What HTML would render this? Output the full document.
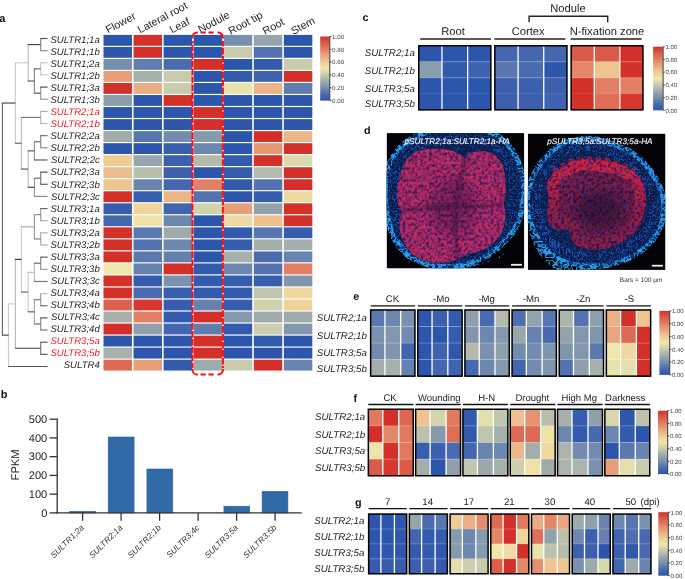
<!DOCTYPE html>
<html><head><meta charset="utf-8"><title>SULTR figure</title>
<style>html,body{margin:0;padding:0;background:#fff;width:685px;height:579px;overflow:hidden}
svg{display:block;font-family:"Liberation Sans", sans-serif;will-change:transform}
text{font-family:"Liberation Sans", sans-serif;text-rendering:geometricPrecision}</style></head>
<body>
<svg width="685" height="579" viewBox="0 0 685 579" font-family='&quot;Liberation Sans&quot;, sans-serif'>
<rect x="0" y="0" width="685" height="579" fill="#ffffff"/>
<text x="-0.8" y="21.8" font-size="11" fill="#111" text-anchor="start" font-weight="bold">a</text>
<rect x="103.5" y="34.9" width="28.45" height="10.85" fill="#2c56ac"/>
<rect x="133.56" y="34.9" width="28.45" height="10.85" fill="#d4302a"/>
<rect x="163.62" y="34.9" width="28.45" height="10.85" fill="#2c56ac"/>
<rect x="193.68" y="34.9" width="28.45" height="10.85" fill="#2c56ac"/>
<rect x="223.74" y="34.9" width="28.45" height="10.85" fill="#768fae"/>
<rect x="253.8" y="34.9" width="28.45" height="10.85" fill="#97a5ac"/>
<rect x="283.86" y="34.9" width="28.45" height="10.85" fill="#2c56ac"/>
<rect x="103.5" y="46.93" width="28.45" height="10.85" fill="#2c56ac"/>
<rect x="133.56" y="46.93" width="28.45" height="10.85" fill="#d4302a"/>
<rect x="163.62" y="46.93" width="28.45" height="10.85" fill="#2c56ac"/>
<rect x="193.68" y="46.93" width="28.45" height="10.85" fill="#2c56ac"/>
<rect x="223.74" y="46.93" width="28.45" height="10.85" fill="#c8cbad"/>
<rect x="253.8" y="46.93" width="28.45" height="10.85" fill="#5472b0"/>
<rect x="283.86" y="46.93" width="28.45" height="10.85" fill="#2c56ac"/>
<rect x="103.5" y="58.96" width="28.45" height="10.85" fill="#768fae"/>
<rect x="133.56" y="58.96" width="28.45" height="10.85" fill="#607daf"/>
<rect x="163.62" y="58.96" width="28.45" height="10.85" fill="#4b6bb0"/>
<rect x="193.68" y="58.96" width="28.45" height="10.85" fill="#d4302a"/>
<rect x="223.74" y="58.96" width="28.45" height="10.85" fill="#2c56ac"/>
<rect x="253.8" y="58.96" width="28.45" height="10.85" fill="#325aad"/>
<rect x="283.86" y="58.96" width="28.45" height="10.85" fill="#c8cbad"/>
<rect x="103.5" y="70.99" width="28.45" height="10.85" fill="#e89e79"/>
<rect x="133.56" y="70.99" width="28.45" height="10.85" fill="#a7b1ab"/>
<rect x="163.62" y="70.99" width="28.45" height="10.85" fill="#c8cbad"/>
<rect x="193.68" y="70.99" width="28.45" height="10.85" fill="#2c56ac"/>
<rect x="223.74" y="70.99" width="28.45" height="10.85" fill="#325aad"/>
<rect x="253.8" y="70.99" width="28.45" height="10.85" fill="#3f63ae"/>
<rect x="283.86" y="70.99" width="28.45" height="10.85" fill="#d4302a"/>
<rect x="103.5" y="83.02" width="28.45" height="10.85" fill="#d4302a"/>
<rect x="133.56" y="83.02" width="28.45" height="10.85" fill="#ebad83"/>
<rect x="163.62" y="83.02" width="28.45" height="10.85" fill="#c8cbad"/>
<rect x="193.68" y="83.02" width="28.45" height="10.85" fill="#2c56ac"/>
<rect x="223.74" y="83.02" width="28.45" height="10.85" fill="#e8e2ab"/>
<rect x="253.8" y="83.02" width="28.45" height="10.85" fill="#ecb588"/>
<rect x="283.86" y="83.02" width="28.45" height="10.85" fill="#607daf"/>
<rect x="103.5" y="95.05" width="28.45" height="10.85" fill="#8a9dac"/>
<rect x="133.56" y="95.05" width="28.45" height="10.85" fill="#2c56ac"/>
<rect x="163.62" y="95.05" width="28.45" height="10.85" fill="#d4302a"/>
<rect x="193.68" y="95.05" width="28.45" height="10.85" fill="#2c56ac"/>
<rect x="223.74" y="95.05" width="28.45" height="10.85" fill="#2c56ac"/>
<rect x="253.8" y="95.05" width="28.45" height="10.85" fill="#2c56ac"/>
<rect x="283.86" y="95.05" width="28.45" height="10.85" fill="#2c56ac"/>
<rect x="103.5" y="107.08" width="28.45" height="10.85" fill="#2c56ac"/>
<rect x="133.56" y="107.08" width="28.45" height="10.85" fill="#2c56ac"/>
<rect x="163.62" y="107.08" width="28.45" height="10.85" fill="#2c56ac"/>
<rect x="193.68" y="107.08" width="28.45" height="10.85" fill="#d4302a"/>
<rect x="223.74" y="107.08" width="28.45" height="10.85" fill="#2c56ac"/>
<rect x="253.8" y="107.08" width="28.45" height="10.85" fill="#2c56ac"/>
<rect x="283.86" y="107.08" width="28.45" height="10.85" fill="#2c56ac"/>
<rect x="103.5" y="119.11" width="28.45" height="10.85" fill="#2c56ac"/>
<rect x="133.56" y="119.11" width="28.45" height="10.85" fill="#2c56ac"/>
<rect x="163.62" y="119.11" width="28.45" height="10.85" fill="#2c56ac"/>
<rect x="193.68" y="119.11" width="28.45" height="10.85" fill="#d4302a"/>
<rect x="223.74" y="119.11" width="28.45" height="10.85" fill="#2c56ac"/>
<rect x="253.8" y="119.11" width="28.45" height="10.85" fill="#2c56ac"/>
<rect x="283.86" y="119.11" width="28.45" height="10.85" fill="#2c56ac"/>
<rect x="103.5" y="131.14" width="28.45" height="10.85" fill="#9fabab"/>
<rect x="133.56" y="131.14" width="28.45" height="10.85" fill="#5876af"/>
<rect x="163.62" y="131.14" width="28.45" height="10.85" fill="#728bae"/>
<rect x="193.68" y="131.14" width="28.45" height="10.85" fill="#869aad"/>
<rect x="223.74" y="131.14" width="28.45" height="10.85" fill="#2c56ac"/>
<rect x="253.8" y="131.14" width="28.45" height="10.85" fill="#d4302a"/>
<rect x="283.86" y="131.14" width="28.45" height="10.85" fill="#ecb88a"/>
<rect x="103.5" y="143.17" width="28.45" height="10.85" fill="#2c56ac"/>
<rect x="133.56" y="143.17" width="28.45" height="10.85" fill="#2c56ac"/>
<rect x="163.62" y="143.17" width="28.45" height="10.85" fill="#385eae"/>
<rect x="193.68" y="143.17" width="28.45" height="10.85" fill="#6d88ae"/>
<rect x="223.74" y="143.17" width="28.45" height="10.85" fill="#2c56ac"/>
<rect x="253.8" y="143.17" width="28.45" height="10.85" fill="#e79674"/>
<rect x="283.86" y="143.17" width="28.45" height="10.85" fill="#d4302a"/>
<rect x="103.5" y="155.2" width="28.45" height="10.85" fill="#efcb96"/>
<rect x="133.56" y="155.2" width="28.45" height="10.85" fill="#97a5ac"/>
<rect x="163.62" y="155.2" width="28.45" height="10.85" fill="#3c60ae"/>
<rect x="193.68" y="155.2" width="28.45" height="10.85" fill="#b4bbac"/>
<rect x="223.74" y="155.2" width="28.45" height="10.85" fill="#325aad"/>
<rect x="253.8" y="155.2" width="28.45" height="10.85" fill="#d4302a"/>
<rect x="283.86" y="155.2" width="28.45" height="10.85" fill="#dcdaac"/>
<rect x="103.5" y="167.23" width="28.45" height="10.85" fill="#edbc8c"/>
<rect x="133.56" y="167.23" width="28.45" height="10.85" fill="#b8beac"/>
<rect x="163.62" y="167.23" width="28.45" height="10.85" fill="#3c60ae"/>
<rect x="193.68" y="167.23" width="28.45" height="10.85" fill="#2c56ac"/>
<rect x="223.74" y="167.23" width="28.45" height="10.85" fill="#355cad"/>
<rect x="253.8" y="167.23" width="28.45" height="10.85" fill="#b4bbac"/>
<rect x="283.86" y="167.23" width="28.45" height="10.85" fill="#d4302a"/>
<rect x="103.5" y="179.26" width="28.45" height="10.85" fill="#eec491"/>
<rect x="133.56" y="179.26" width="28.45" height="10.85" fill="#6984af"/>
<rect x="163.62" y="179.26" width="28.45" height="10.85" fill="#4567af"/>
<rect x="193.68" y="179.26" width="28.45" height="10.85" fill="#e27f64"/>
<rect x="223.74" y="179.26" width="28.45" height="10.85" fill="#325aad"/>
<rect x="253.8" y="179.26" width="28.45" height="10.85" fill="#5472b0"/>
<rect x="283.86" y="179.26" width="28.45" height="10.85" fill="#d4302a"/>
<rect x="103.5" y="191.29" width="28.45" height="10.85" fill="#d4302a"/>
<rect x="133.56" y="191.29" width="28.45" height="10.85" fill="#385eae"/>
<rect x="163.62" y="191.29" width="28.45" height="10.85" fill="#ecb588"/>
<rect x="193.68" y="191.29" width="28.45" height="10.85" fill="#5472b0"/>
<rect x="223.74" y="191.29" width="28.45" height="10.85" fill="#2c56ac"/>
<rect x="253.8" y="191.29" width="28.45" height="10.85" fill="#355cad"/>
<rect x="283.86" y="191.29" width="28.45" height="10.85" fill="#f0d9a0"/>
<rect x="103.5" y="203.32" width="28.45" height="10.85" fill="#355cad"/>
<rect x="133.56" y="203.32" width="28.45" height="10.85" fill="#efd49c"/>
<rect x="163.62" y="203.32" width="28.45" height="10.85" fill="#4265af"/>
<rect x="193.68" y="203.32" width="28.45" height="10.85" fill="#d0d1ad"/>
<rect x="223.74" y="203.32" width="28.45" height="10.85" fill="#e89e79"/>
<rect x="253.8" y="203.32" width="28.45" height="10.85" fill="#93a3ac"/>
<rect x="283.86" y="203.32" width="28.45" height="10.85" fill="#d4302a"/>
<rect x="103.5" y="215.35" width="28.45" height="10.85" fill="#4567af"/>
<rect x="133.56" y="215.35" width="28.45" height="10.85" fill="#f0e2a7"/>
<rect x="163.62" y="215.35" width="28.45" height="10.85" fill="#6d88ae"/>
<rect x="193.68" y="215.35" width="28.45" height="10.85" fill="#2c56ac"/>
<rect x="223.74" y="215.35" width="28.45" height="10.85" fill="#f0d9a0"/>
<rect x="253.8" y="215.35" width="28.45" height="10.85" fill="#eec08f"/>
<rect x="283.86" y="215.35" width="28.45" height="10.85" fill="#d4302a"/>
<rect x="103.5" y="227.38" width="28.45" height="10.85" fill="#d4302a"/>
<rect x="133.56" y="227.38" width="28.45" height="10.85" fill="#5c79af"/>
<rect x="163.62" y="227.38" width="28.45" height="10.85" fill="#9fabab"/>
<rect x="193.68" y="227.38" width="28.45" height="10.85" fill="#2c56ac"/>
<rect x="223.74" y="227.38" width="28.45" height="10.85" fill="#325aad"/>
<rect x="253.8" y="227.38" width="28.45" height="10.85" fill="#5876af"/>
<rect x="283.86" y="227.38" width="28.45" height="10.85" fill="#355cad"/>
<rect x="103.5" y="239.41" width="28.45" height="10.85" fill="#d4302a"/>
<rect x="133.56" y="239.41" width="28.45" height="10.85" fill="#5472b0"/>
<rect x="163.62" y="239.41" width="28.45" height="10.85" fill="#6d88ae"/>
<rect x="193.68" y="239.41" width="28.45" height="10.85" fill="#2c56ac"/>
<rect x="223.74" y="239.41" width="28.45" height="10.85" fill="#355cad"/>
<rect x="253.8" y="239.41" width="28.45" height="10.85" fill="#a3aeab"/>
<rect x="283.86" y="239.41" width="28.45" height="10.85" fill="#a3aeab"/>
<rect x="103.5" y="251.44" width="28.45" height="10.85" fill="#d4302a"/>
<rect x="133.56" y="251.44" width="28.45" height="10.85" fill="#5c79af"/>
<rect x="163.62" y="251.44" width="28.45" height="10.85" fill="#6581af"/>
<rect x="193.68" y="251.44" width="28.45" height="10.85" fill="#2c56ac"/>
<rect x="223.74" y="251.44" width="28.45" height="10.85" fill="#a7b1ab"/>
<rect x="253.8" y="251.44" width="28.45" height="10.85" fill="#4b6bb0"/>
<rect x="283.86" y="251.44" width="28.45" height="10.85" fill="#6984af"/>
<rect x="103.5" y="263.47" width="28.45" height="10.85" fill="#f0e8ab"/>
<rect x="133.56" y="263.47" width="28.45" height="10.85" fill="#6581af"/>
<rect x="163.62" y="263.47" width="28.45" height="10.85" fill="#d4302a"/>
<rect x="193.68" y="263.47" width="28.45" height="10.85" fill="#325aad"/>
<rect x="223.74" y="263.47" width="28.45" height="10.85" fill="#6d88ae"/>
<rect x="253.8" y="263.47" width="28.45" height="10.85" fill="#5472b0"/>
<rect x="283.86" y="263.47" width="28.45" height="10.85" fill="#e27f64"/>
<rect x="103.5" y="275.5" width="28.45" height="10.85" fill="#d4302a"/>
<rect x="133.56" y="275.5" width="28.45" height="10.85" fill="#355cad"/>
<rect x="163.62" y="275.5" width="28.45" height="10.85" fill="#7a92ae"/>
<rect x="193.68" y="275.5" width="28.45" height="10.85" fill="#325aad"/>
<rect x="223.74" y="275.5" width="28.45" height="10.85" fill="#355cad"/>
<rect x="253.8" y="275.5" width="28.45" height="10.85" fill="#385eae"/>
<rect x="283.86" y="275.5" width="28.45" height="10.85" fill="#7e95ad"/>
<rect x="103.5" y="287.53" width="28.45" height="10.85" fill="#d4302a"/>
<rect x="133.56" y="287.53" width="28.45" height="10.85" fill="#4b6bb0"/>
<rect x="163.62" y="287.53" width="28.45" height="10.85" fill="#385eae"/>
<rect x="193.68" y="287.53" width="28.45" height="10.85" fill="#325aad"/>
<rect x="223.74" y="287.53" width="28.45" height="10.85" fill="#325aad"/>
<rect x="253.8" y="287.53" width="28.45" height="10.85" fill="#c0c5ad"/>
<rect x="283.86" y="287.53" width="28.45" height="10.85" fill="#efd79e"/>
<rect x="103.5" y="299.56" width="28.45" height="10.85" fill="#dd614f"/>
<rect x="133.56" y="299.56" width="28.45" height="10.85" fill="#d63830"/>
<rect x="163.62" y="299.56" width="28.45" height="10.85" fill="#355cad"/>
<rect x="193.68" y="299.56" width="28.45" height="10.85" fill="#6581af"/>
<rect x="223.74" y="299.56" width="28.45" height="10.85" fill="#355cad"/>
<rect x="253.8" y="299.56" width="28.45" height="10.85" fill="#d0d1ad"/>
<rect x="283.86" y="299.56" width="28.45" height="10.85" fill="#efd19a"/>
<rect x="103.5" y="311.59" width="28.45" height="10.85" fill="#a7b1ab"/>
<rect x="133.56" y="311.59" width="28.45" height="10.85" fill="#e27f64"/>
<rect x="163.62" y="311.59" width="28.45" height="10.85" fill="#325aad"/>
<rect x="193.68" y="311.59" width="28.45" height="10.85" fill="#d4302a"/>
<rect x="223.74" y="311.59" width="28.45" height="10.85" fill="#869aad"/>
<rect x="253.8" y="311.59" width="28.45" height="10.85" fill="#9fabab"/>
<rect x="283.86" y="311.59" width="28.45" height="10.85" fill="#9fabab"/>
<rect x="103.5" y="323.62" width="28.45" height="10.85" fill="#d4302a"/>
<rect x="133.56" y="323.62" width="28.45" height="10.85" fill="#8fa0ac"/>
<rect x="163.62" y="323.62" width="28.45" height="10.85" fill="#4567af"/>
<rect x="193.68" y="323.62" width="28.45" height="10.85" fill="#607daf"/>
<rect x="223.74" y="323.62" width="28.45" height="10.85" fill="#325aad"/>
<rect x="253.8" y="323.62" width="28.45" height="10.85" fill="#cccead"/>
<rect x="283.86" y="323.62" width="28.45" height="10.85" fill="#8297ad"/>
<rect x="103.5" y="335.65" width="28.45" height="10.85" fill="#2c56ac"/>
<rect x="133.56" y="335.65" width="28.45" height="10.85" fill="#2c56ac"/>
<rect x="163.62" y="335.65" width="28.45" height="10.85" fill="#2c56ac"/>
<rect x="193.68" y="335.65" width="28.45" height="10.85" fill="#d4302a"/>
<rect x="223.74" y="335.65" width="28.45" height="10.85" fill="#2c56ac"/>
<rect x="253.8" y="335.65" width="28.45" height="10.85" fill="#325aad"/>
<rect x="283.86" y="335.65" width="28.45" height="10.85" fill="#2c56ac"/>
<rect x="103.5" y="347.68" width="28.45" height="10.85" fill="#a7b1ab"/>
<rect x="133.56" y="347.68" width="28.45" height="10.85" fill="#2c56ac"/>
<rect x="163.62" y="347.68" width="28.45" height="10.85" fill="#2c56ac"/>
<rect x="193.68" y="347.68" width="28.45" height="10.85" fill="#d4302a"/>
<rect x="223.74" y="347.68" width="28.45" height="10.85" fill="#2c56ac"/>
<rect x="253.8" y="347.68" width="28.45" height="10.85" fill="#2c56ac"/>
<rect x="283.86" y="347.68" width="28.45" height="10.85" fill="#2c56ac"/>
<rect x="103.5" y="359.71" width="28.45" height="10.85" fill="#de6954"/>
<rect x="133.56" y="359.71" width="28.45" height="10.85" fill="#e89e79"/>
<rect x="163.62" y="359.71" width="28.45" height="10.85" fill="#325aad"/>
<rect x="193.68" y="359.71" width="28.45" height="10.85" fill="#9fabab"/>
<rect x="223.74" y="359.71" width="28.45" height="10.85" fill="#c8cbad"/>
<rect x="253.8" y="359.71" width="28.45" height="10.85" fill="#d4302a"/>
<rect x="283.86" y="359.71" width="28.45" height="10.85" fill="#6984af"/>
<text x="0" y="0" font-size="10.8" fill="#222" transform="translate(108.1 33.6) rotate(-28)">Flower</text>
<text x="0" y="0" font-size="10.8" fill="#222" transform="translate(140.1 33.6) rotate(-28)">Lateral root</text>
<text x="0" y="0" font-size="10.8" fill="#222" transform="translate(172 33.6) rotate(-28)">Leaf</text>
<text x="0" y="0" font-size="10.8" fill="#222" transform="translate(200.4 33.3) rotate(-28)">Nodule</text>
<text x="0" y="0" font-size="10.8" fill="#222" transform="translate(230.8 34.9) rotate(-28)">Root tip</text>
<text x="0" y="0" font-size="10.8" fill="#222" transform="translate(265 34.9) rotate(-28)">Root</text>
<text x="0" y="0" font-size="10.8" fill="#222" transform="translate(293.4 34.9) rotate(-28)">Stem</text>
<text x="99.8" y="42.8" font-size="9.6" fill="#262626" text-anchor="end" font-style="italic">SULTR1;1a</text>
<text x="99.8" y="54.86" font-size="9.6" fill="#262626" text-anchor="end" font-style="italic">SULTR1;1b</text>
<text x="99.8" y="66.92" font-size="9.6" fill="#262626" text-anchor="end" font-style="italic">SULTR1;2a</text>
<text x="99.8" y="78.98" font-size="9.6" fill="#262626" text-anchor="end" font-style="italic">SULTR1;2b</text>
<text x="99.8" y="91.04" font-size="9.6" fill="#262626" text-anchor="end" font-style="italic">SULTR1;3a</text>
<text x="99.8" y="103.1" font-size="9.6" fill="#262626" text-anchor="end" font-style="italic">SULTR1;3b</text>
<text x="99.8" y="115.16" font-size="9.6" fill="#ee1c24" text-anchor="end" font-style="italic">SULTR2;1a</text>
<text x="99.8" y="127.22" font-size="9.6" fill="#ee1c24" text-anchor="end" font-style="italic">SULTR2;1b</text>
<text x="99.8" y="139.28" font-size="9.6" fill="#262626" text-anchor="end" font-style="italic">SULTR2;2a</text>
<text x="99.8" y="151.34" font-size="9.6" fill="#262626" text-anchor="end" font-style="italic">SULTR2;2b</text>
<text x="99.8" y="163.4" font-size="9.6" fill="#262626" text-anchor="end" font-style="italic">SULTR2;2c</text>
<text x="99.8" y="175.46" font-size="9.6" fill="#262626" text-anchor="end" font-style="italic">SULTR2;3a</text>
<text x="99.8" y="187.52" font-size="9.6" fill="#262626" text-anchor="end" font-style="italic">SULTR2;3b</text>
<text x="99.8" y="199.58" font-size="9.6" fill="#262626" text-anchor="end" font-style="italic">SULTR2;3c</text>
<text x="99.8" y="211.64" font-size="9.6" fill="#262626" text-anchor="end" font-style="italic">SULTR3;1a</text>
<text x="99.8" y="223.7" font-size="9.6" fill="#262626" text-anchor="end" font-style="italic">SULTR3;1b</text>
<text x="99.8" y="235.76" font-size="9.6" fill="#262626" text-anchor="end" font-style="italic">SULTR3;2a</text>
<text x="99.8" y="247.82" font-size="9.6" fill="#262626" text-anchor="end" font-style="italic">SULTR3;2b</text>
<text x="99.8" y="259.88" font-size="9.6" fill="#262626" text-anchor="end" font-style="italic">SULTR3;3a</text>
<text x="99.8" y="271.94" font-size="9.6" fill="#262626" text-anchor="end" font-style="italic">SULTR3;3b</text>
<text x="99.8" y="284" font-size="9.6" fill="#262626" text-anchor="end" font-style="italic">SULTR3;3c</text>
<text x="99.8" y="296.06" font-size="9.6" fill="#262626" text-anchor="end" font-style="italic">SULTR3;4a</text>
<text x="99.8" y="308.12" font-size="9.6" fill="#262626" text-anchor="end" font-style="italic">SULTR3;4b</text>
<text x="99.8" y="320.18" font-size="9.6" fill="#262626" text-anchor="end" font-style="italic">SULTR3;4c</text>
<text x="99.8" y="332.24" font-size="9.6" fill="#262626" text-anchor="end" font-style="italic">SULTR3;4d</text>
<text x="99.8" y="344.3" font-size="9.6" fill="#ee1c24" text-anchor="end" font-style="italic">SULTR3;5a</text>
<text x="99.8" y="356.36" font-size="9.6" fill="#ee1c24" text-anchor="end" font-style="italic">SULTR3;5b</text>
<text x="99.8" y="368.42" font-size="9.6" fill="#262626" text-anchor="end" font-style="italic">SULTR4</text>
<line x1="40.7" y1="38.5" x2="40.7" y2="50.65" stroke="#888" stroke-width="1.15"/>
<line x1="40.7" y1="62.8" x2="40.7" y2="74.94" stroke="#c8c8c8" stroke-width="1.15"/>
<line x1="40.7" y1="87.09" x2="40.7" y2="99.24" stroke="#999" stroke-width="1.15"/>
<line x1="40.7" y1="111.39" x2="40.7" y2="123.54" stroke="#bbb" stroke-width="1.15"/>
<line x1="40.7" y1="135.68" x2="40.7" y2="147.83" stroke="#888" stroke-width="1.15"/>
<line x1="40.7" y1="172.13" x2="40.7" y2="184.28" stroke="#777" stroke-width="1.15"/>
<line x1="40.7" y1="208.57" x2="40.7" y2="220.72" stroke="#999" stroke-width="1.15"/>
<line x1="40.7" y1="232.87" x2="40.7" y2="245.02" stroke="#aaa" stroke-width="1.15"/>
<line x1="40.7" y1="257.16" x2="40.7" y2="269.31" stroke="#888" stroke-width="1.15"/>
<line x1="40.7" y1="293.61" x2="40.7" y2="305.76" stroke="#999" stroke-width="1.15"/>
<line x1="40.7" y1="317.9" x2="40.7" y2="330.05" stroke="#888" stroke-width="1.15"/>
<line x1="40.7" y1="342.2" x2="40.7" y2="354.35" stroke="#777" stroke-width="1.15"/>
<line x1="34.4" y1="68.87" x2="34.4" y2="93.17" stroke="#888" stroke-width="1.15"/>
<line x1="28.2" y1="44.57" x2="28.2" y2="81.02" stroke="#bbb" stroke-width="1.15"/>
<line x1="34.4" y1="141.76" x2="34.4" y2="159.98" stroke="#999" stroke-width="1.15"/>
<line x1="34.4" y1="178.2" x2="34.4" y2="196.42" stroke="#999" stroke-width="1.15"/>
<line x1="28.2" y1="150.87" x2="28.2" y2="187.31" stroke="#bbb" stroke-width="1.15"/>
<line x1="21.4" y1="117.46" x2="21.4" y2="169.09" stroke="#bbb" stroke-width="1.15"/>
<line x1="15.4" y1="62.8" x2="15.4" y2="143.28" stroke="#ccc" stroke-width="1.15"/>
<line x1="34.4" y1="214.65" x2="34.4" y2="238.94" stroke="#999" stroke-width="1.15"/>
<line x1="34.4" y1="263.24" x2="34.4" y2="281.46" stroke="#bbb" stroke-width="1.15"/>
<line x1="34.4" y1="299.68" x2="34.4" y2="323.98" stroke="#aaa" stroke-width="1.15"/>
<line x1="28.2" y1="272.35" x2="28.2" y2="311.83" stroke="#ccc" stroke-width="1.15"/>
<line x1="21.4" y1="226.79" x2="21.4" y2="292.09" stroke="#ccc" stroke-width="1.15"/>
<line x1="15.4" y1="259.44" x2="15.4" y2="348.27" stroke="#bbb" stroke-width="1.15"/>
<line x1="8.5" y1="303.86" x2="8.5" y2="366.5" stroke="#ccc" stroke-width="1.15"/>
<line x1="2.4" y1="103.04" x2="2.4" y2="335.18" stroke="#666" stroke-width="1.15"/>
<line x1="40.2" y1="38.5" x2="47.6" y2="38.5" stroke="#555" stroke-width="1.15"/>
<line x1="40.2" y1="50.65" x2="47.6" y2="50.65" stroke="#888" stroke-width="1.15"/>
<line x1="40.2" y1="62.8" x2="47.6" y2="62.8" stroke="#c8c8c8" stroke-width="1.15"/>
<line x1="40.2" y1="74.94" x2="47.6" y2="74.94" stroke="#c8c8c8" stroke-width="1.15"/>
<line x1="40.2" y1="87.09" x2="47.6" y2="87.09" stroke="#444" stroke-width="1.15"/>
<line x1="40.2" y1="99.24" x2="47.6" y2="99.24" stroke="#999" stroke-width="1.15"/>
<line x1="40.2" y1="111.39" x2="47.6" y2="111.39" stroke="#aaa" stroke-width="1.15"/>
<line x1="40.2" y1="123.54" x2="47.6" y2="123.54" stroke="#bbb" stroke-width="1.15"/>
<line x1="40.2" y1="135.68" x2="47.6" y2="135.68" stroke="#666" stroke-width="1.15"/>
<line x1="40.2" y1="147.83" x2="47.6" y2="147.83" stroke="#888" stroke-width="1.15"/>
<line x1="33.9" y1="159.98" x2="47.6" y2="159.98" stroke="#555" stroke-width="1.15"/>
<line x1="40.2" y1="172.13" x2="47.6" y2="172.13" stroke="#444" stroke-width="1.15"/>
<line x1="40.2" y1="184.28" x2="47.6" y2="184.28" stroke="#555" stroke-width="1.15"/>
<line x1="33.9" y1="196.42" x2="47.6" y2="196.42" stroke="#888" stroke-width="1.15"/>
<line x1="40.2" y1="208.57" x2="47.6" y2="208.57" stroke="#666" stroke-width="1.15"/>
<line x1="40.2" y1="220.72" x2="47.6" y2="220.72" stroke="#aaa" stroke-width="1.15"/>
<line x1="40.2" y1="232.87" x2="47.6" y2="232.87" stroke="#aaa" stroke-width="1.15"/>
<line x1="40.2" y1="245.02" x2="47.6" y2="245.02" stroke="#aaa" stroke-width="1.15"/>
<line x1="40.2" y1="257.16" x2="47.6" y2="257.16" stroke="#555" stroke-width="1.15"/>
<line x1="40.2" y1="269.31" x2="47.6" y2="269.31" stroke="#999" stroke-width="1.15"/>
<line x1="33.9" y1="281.46" x2="47.6" y2="281.46" stroke="#777" stroke-width="1.15"/>
<line x1="40.2" y1="293.61" x2="47.6" y2="293.61" stroke="#bbb" stroke-width="1.15"/>
<line x1="40.2" y1="305.76" x2="47.6" y2="305.76" stroke="#666" stroke-width="1.15"/>
<line x1="40.2" y1="317.9" x2="47.6" y2="317.9" stroke="#555" stroke-width="1.15"/>
<line x1="40.2" y1="330.05" x2="47.6" y2="330.05" stroke="#777" stroke-width="1.15"/>
<line x1="40.2" y1="342.2" x2="47.6" y2="342.2" stroke="#555" stroke-width="1.15"/>
<line x1="40.2" y1="354.35" x2="47.6" y2="354.35" stroke="#555" stroke-width="1.15"/>
<line x1="8" y1="366.5" x2="47.6" y2="366.5" stroke="#555" stroke-width="1.15"/>
<line x1="27.7" y1="44.57" x2="40.7" y2="44.57" stroke="#444" stroke-width="1.15"/>
<line x1="33.9" y1="68.87" x2="40.7" y2="68.87" stroke="#666" stroke-width="1.15"/>
<line x1="33.9" y1="93.17" x2="40.7" y2="93.17" stroke="#555" stroke-width="1.15"/>
<line x1="20.9" y1="117.46" x2="40.7" y2="117.46" stroke="#777" stroke-width="1.15"/>
<line x1="33.9" y1="141.76" x2="40.7" y2="141.76" stroke="#666" stroke-width="1.15"/>
<line x1="33.9" y1="178.2" x2="40.7" y2="178.2" stroke="#666" stroke-width="1.15"/>
<line x1="33.9" y1="214.65" x2="40.7" y2="214.65" stroke="#888" stroke-width="1.15"/>
<line x1="33.9" y1="238.94" x2="40.7" y2="238.94" stroke="#777" stroke-width="1.15"/>
<line x1="33.9" y1="263.24" x2="40.7" y2="263.24" stroke="#666" stroke-width="1.15"/>
<line x1="33.9" y1="299.68" x2="40.7" y2="299.68" stroke="#777" stroke-width="1.15"/>
<line x1="33.9" y1="323.98" x2="40.7" y2="323.98" stroke="#666" stroke-width="1.15"/>
<line x1="14.9" y1="348.27" x2="40.7" y2="348.27" stroke="#555" stroke-width="1.15"/>
<line x1="27.7" y1="81.02" x2="34.4" y2="81.02" stroke="#555" stroke-width="1.15"/>
<line x1="14.9" y1="62.8" x2="28.2" y2="62.8" stroke="#ccc" stroke-width="1.15"/>
<line x1="27.7" y1="150.87" x2="34.4" y2="150.87" stroke="#555" stroke-width="1.15"/>
<line x1="27.7" y1="187.31" x2="34.4" y2="187.31" stroke="#444" stroke-width="1.15"/>
<line x1="20.9" y1="169.09" x2="28.2" y2="169.09" stroke="#555" stroke-width="1.15"/>
<line x1="14.9" y1="143.28" x2="21.4" y2="143.28" stroke="#666" stroke-width="1.15"/>
<line x1="1.9" y1="103.04" x2="15.4" y2="103.04" stroke="#444" stroke-width="1.15"/>
<line x1="20.9" y1="226.79" x2="34.4" y2="226.79" stroke="#aaa" stroke-width="1.15"/>
<line x1="27.7" y1="272.35" x2="34.4" y2="272.35" stroke="#bbb" stroke-width="1.15"/>
<line x1="27.7" y1="311.83" x2="34.4" y2="311.83" stroke="#555" stroke-width="1.15"/>
<line x1="20.9" y1="292.09" x2="28.2" y2="292.09" stroke="#666" stroke-width="1.15"/>
<line x1="14.9" y1="259.44" x2="21.4" y2="259.44" stroke="#333" stroke-width="1.15"/>
<line x1="8" y1="303.86" x2="15.4" y2="303.86" stroke="#ccc" stroke-width="1.15"/>
<line x1="1.9" y1="335.18" x2="8.5" y2="335.18" stroke="#444" stroke-width="1.15"/>
<path d="M192.5 38.4 V37.2 A4.6 4.6 0 0 1 197.1 32.6 H197.9" fill="none" stroke="#fa0c14" stroke-width="2.0"/>
<path d="M217.5 32.6 H218.3 A4.6 4.6 0 0 1 222.9 37.2 V38.4" fill="none" stroke="#fa0c14" stroke-width="2.0"/>
<path d="M222.9 368.7 V369.9 A4.6 4.6 0 0 1 218.3 374.5 H217.5" fill="none" stroke="#fa0c14" stroke-width="2.0"/>
<path d="M197.9 374.5 H197.1 A4.6 4.6 0 0 1 192.5 369.9 V368.7" fill="none" stroke="#fa0c14" stroke-width="2.0"/>
<path d="M200.5 32.6 H216.3" fill="none" stroke="#fa0c14" stroke-width="2.0" stroke-dasharray="5.3 2.6"/>
<path d="M200.5 374.5 H216.3" fill="none" stroke="#fa0c14" stroke-width="2.0" stroke-dasharray="5.3 2.6"/>
<path d="M192.5 41 V367.9" fill="none" stroke="#fa0c14" stroke-width="2.0" stroke-dasharray="6.7 1.25" stroke-dashoffset="-3.75"/>
<path d="M222.9 41 V367.9" fill="none" stroke="#fa0c14" stroke-width="2.0" stroke-dasharray="6.7 1.25" stroke-dashoffset="-6.85"/>
<defs><linearGradient id="cba" x1="0" y1="1" x2="0" y2="0">
<stop offset="0" stop-color="#2c56ac"/>
<stop offset="0.1" stop-color="#4b6bb0"/>
<stop offset="0.2" stop-color="#768fae"/>
<stop offset="0.3" stop-color="#9fabab"/>
<stop offset="0.4" stop-color="#c8cbad"/>
<stop offset="0.5" stop-color="#f0e8ab"/>
<stop offset="0.6" stop-color="#efcb96"/>
<stop offset="0.7" stop-color="#eaa67e"/>
<stop offset="0.8" stop-color="#e27f64"/>
<stop offset="0.9" stop-color="#dc5a4a"/>
<stop offset="1" stop-color="#d4302a"/>
</linearGradient></defs>
<rect x="320.2" y="36.5" width="9.3" height="64.1" fill="url(#cba)"/>
<line x1="329.8" y1="36.5" x2="329.8" y2="100.6" stroke="#222" stroke-width="0.9"/>
<line x1="329.8" y1="100.6" x2="331.5" y2="100.6" stroke="#222" stroke-width="0.8"/>
<text x="332.1" y="102.9" font-size="6.2" fill="#444" text-anchor="start">0.00</text>
<line x1="329.8" y1="87.78" x2="331.5" y2="87.78" stroke="#222" stroke-width="0.8"/>
<text x="332.1" y="90.08" font-size="6.2" fill="#444" text-anchor="start">0.20</text>
<line x1="329.8" y1="74.96" x2="331.5" y2="74.96" stroke="#222" stroke-width="0.8"/>
<text x="332.1" y="77.26" font-size="6.2" fill="#444" text-anchor="start">0.40</text>
<line x1="329.8" y1="62.14" x2="331.5" y2="62.14" stroke="#222" stroke-width="0.8"/>
<text x="332.1" y="64.44" font-size="6.2" fill="#444" text-anchor="start">0.60</text>
<line x1="329.8" y1="49.32" x2="331.5" y2="49.32" stroke="#222" stroke-width="0.8"/>
<text x="332.1" y="51.62" font-size="6.2" fill="#444" text-anchor="start">0.80</text>
<line x1="329.8" y1="36.5" x2="331.5" y2="36.5" stroke="#222" stroke-width="0.8"/>
<text x="332.1" y="38.8" font-size="6.2" fill="#444" text-anchor="start">1.00</text>
<text x="0.8" y="397.6" font-size="11" fill="#111" text-anchor="start" font-weight="bold">b</text>
<rect x="69.7" y="511.4" width="25.9" height="1.5" fill="#316ba7" stroke="#2a64a2" stroke-width="0.6"/>
<rect x="108.2" y="437" width="25.9" height="75.9" fill="#316ba7" stroke="#2a64a2" stroke-width="0.6"/>
<rect x="146.9" y="469" width="25.9" height="43.9" fill="#316ba7" stroke="#2a64a2" stroke-width="0.6"/>
<rect x="223.9" y="506.2" width="25.8" height="6.7" fill="#316ba7" stroke="#2a64a2" stroke-width="0.6"/>
<rect x="262.1" y="491.4" width="25.8" height="21.5" fill="#316ba7" stroke="#2a64a2" stroke-width="0.6"/>
<line x1="57.2" y1="418.4" x2="57.2" y2="513.5" stroke="#333" stroke-width="1.3"/>
<line x1="56.6" y1="512.9" x2="301.8" y2="512.9" stroke="#333" stroke-width="1.3"/>
<line x1="49.6" y1="512.9" x2="57.2" y2="512.9" stroke="#333" stroke-width="1.3"/>
<text x="47.3" y="516.65" font-size="11.1" fill="#222" text-anchor="end">0</text>
<line x1="49.6" y1="494.16" x2="57.2" y2="494.16" stroke="#333" stroke-width="1.3"/>
<text x="47.3" y="497.91" font-size="11.1" fill="#222" text-anchor="end">100</text>
<line x1="49.6" y1="475.42" x2="57.2" y2="475.42" stroke="#333" stroke-width="1.3"/>
<text x="47.3" y="479.17" font-size="11.1" fill="#222" text-anchor="end">200</text>
<line x1="49.6" y1="456.68" x2="57.2" y2="456.68" stroke="#333" stroke-width="1.3"/>
<text x="47.3" y="460.43" font-size="11.1" fill="#222" text-anchor="end">300</text>
<line x1="49.6" y1="437.94" x2="57.2" y2="437.94" stroke="#333" stroke-width="1.3"/>
<text x="47.3" y="441.69" font-size="11.1" fill="#222" text-anchor="end">400</text>
<line x1="49.6" y1="419.2" x2="57.2" y2="419.2" stroke="#333" stroke-width="1.3"/>
<text x="47.3" y="422.95" font-size="11.1" fill="#222" text-anchor="end">500</text>
<line x1="82.6" y1="512.9" x2="82.6" y2="520.8" stroke="#333" stroke-width="1.3"/>
<text x="0" y="0" font-size="8.4" fill="#333" font-style="italic" text-anchor="end" transform="translate(84.5 528.2) rotate(-45)">SULTR1;2a</text>
<line x1="121.1" y1="512.9" x2="121.1" y2="520.8" stroke="#333" stroke-width="1.3"/>
<text x="0" y="0" font-size="8.4" fill="#333" font-style="italic" text-anchor="end" transform="translate(123 528.2) rotate(-45)">SULTR2;1a</text>
<line x1="159.6" y1="512.9" x2="159.6" y2="520.8" stroke="#333" stroke-width="1.3"/>
<text x="0" y="0" font-size="8.4" fill="#333" font-style="italic" text-anchor="end" transform="translate(161.5 528.2) rotate(-45)">SULTR2;1b</text>
<line x1="198.1" y1="512.9" x2="198.1" y2="520.8" stroke="#333" stroke-width="1.3"/>
<text x="0" y="0" font-size="8.4" fill="#333" font-style="italic" text-anchor="end" transform="translate(200 528.2) rotate(-45)">SULTR3;4c</text>
<line x1="236.6" y1="512.9" x2="236.6" y2="520.8" stroke="#333" stroke-width="1.3"/>
<text x="0" y="0" font-size="8.4" fill="#333" font-style="italic" text-anchor="end" transform="translate(238.5 528.2) rotate(-45)">SULTR3;5a</text>
<line x1="275.1" y1="512.9" x2="275.1" y2="520.8" stroke="#333" stroke-width="1.3"/>
<text x="0" y="0" font-size="8.4" fill="#333" font-style="italic" text-anchor="end" transform="translate(277 528.2) rotate(-45)">SULTR3;5b</text>
<text x="0" y="0" font-size="11.2" fill="#222" text-anchor="middle" transform="translate(19.0 464.9) rotate(-90)">FPKM</text>
<text x="362.5" y="20.7" font-size="10.8" fill="#111" text-anchor="start" font-weight="bold">c</text>
<rect x="418.75" y="45.75" width="23.27" height="16.07" fill="#2c56ac"/>
<rect x="441.97" y="45.75" width="25.72" height="16.07" fill="#2c56ac"/>
<rect x="467.63" y="45.75" width="23.27" height="16.07" fill="#2c56ac"/>
<rect x="418.75" y="61.77" width="23.27" height="16.07" fill="#8a9dac"/>
<rect x="441.97" y="61.77" width="25.72" height="16.07" fill="#325aad"/>
<rect x="467.63" y="61.77" width="23.27" height="16.07" fill="#3f63ae"/>
<rect x="418.75" y="77.8" width="23.27" height="16.07" fill="#2c56ac"/>
<rect x="441.97" y="77.8" width="25.72" height="16.07" fill="#2c56ac"/>
<rect x="467.63" y="77.8" width="23.27" height="16.07" fill="#2c56ac"/>
<rect x="418.75" y="93.82" width="23.27" height="16.07" fill="#2c56ac"/>
<rect x="441.97" y="93.82" width="25.72" height="16.07" fill="#2c56ac"/>
<rect x="467.63" y="93.82" width="23.27" height="16.07" fill="#2c56ac"/>
<line x1="418.75" y1="61.77" x2="490.85" y2="61.77" stroke="#ffffff" stroke-width="0.9" stroke-opacity="0.25"/>
<line x1="418.75" y1="77.8" x2="490.85" y2="77.8" stroke="#ffffff" stroke-width="0.9" stroke-opacity="0.25"/>
<line x1="441.97" y1="45.75" x2="441.97" y2="109.85" stroke="#ffffff" stroke-width="1.3"/>
<line x1="467.63" y1="45.75" x2="467.63" y2="109.85" stroke="#ffffff" stroke-width="1.3"/>
<rect x="418.75" y="45.75" width="72.1" height="64.1" fill="none" stroke="#000" stroke-width="1.5"/>
<text x="453" y="35" font-size="11.2" fill="#222" text-anchor="middle">Root</text>
<line x1="420.2" y1="39" x2="491" y2="39" stroke="#222" stroke-width="1.5"/>
<rect x="494.85" y="45.75" width="23.27" height="16.07" fill="#4567af"/>
<rect x="518.07" y="45.75" width="25.72" height="16.07" fill="#4567af"/>
<rect x="543.73" y="45.75" width="23.27" height="16.07" fill="#4567af"/>
<rect x="494.85" y="61.77" width="23.27" height="16.07" fill="#5876af"/>
<rect x="518.07" y="61.77" width="25.72" height="16.07" fill="#4b6bb0"/>
<rect x="543.73" y="61.77" width="23.27" height="16.07" fill="#2c56ac"/>
<rect x="494.85" y="77.8" width="23.27" height="16.07" fill="#3c60ae"/>
<rect x="518.07" y="77.8" width="25.72" height="16.07" fill="#3c60ae"/>
<rect x="543.73" y="77.8" width="23.27" height="16.07" fill="#3c60ae"/>
<rect x="494.85" y="93.82" width="23.27" height="16.07" fill="#3c60ae"/>
<rect x="518.07" y="93.82" width="25.72" height="16.07" fill="#3c60ae"/>
<rect x="543.73" y="93.82" width="23.27" height="16.07" fill="#3f63ae"/>
<line x1="494.85" y1="61.77" x2="566.95" y2="61.77" stroke="#ffffff" stroke-width="0.9" stroke-opacity="0.25"/>
<line x1="494.85" y1="77.8" x2="566.95" y2="77.8" stroke="#ffffff" stroke-width="0.9" stroke-opacity="0.25"/>
<line x1="518.07" y1="45.75" x2="518.07" y2="109.85" stroke="#ffffff" stroke-width="1.3"/>
<line x1="543.73" y1="45.75" x2="543.73" y2="109.85" stroke="#ffffff" stroke-width="1.3"/>
<rect x="494.85" y="45.75" width="72.1" height="64.1" fill="none" stroke="#000" stroke-width="1.5"/>
<text x="528.2" y="35" font-size="11.2" fill="#222" text-anchor="middle">Cortex</text>
<line x1="494.5" y1="39" x2="565.4" y2="39" stroke="#222" stroke-width="1.5"/>
<rect x="571.15" y="45.75" width="23.17" height="16.07" fill="#dc5a4a"/>
<rect x="594.27" y="45.75" width="25.61" height="16.07" fill="#dc5a4a"/>
<rect x="619.83" y="45.75" width="23.17" height="16.07" fill="#d4302a"/>
<rect x="571.15" y="61.77" width="23.17" height="16.07" fill="#e48769"/>
<rect x="594.27" y="61.77" width="25.61" height="16.07" fill="#eec491"/>
<rect x="619.83" y="61.77" width="23.17" height="16.07" fill="#d4302a"/>
<rect x="571.15" y="77.8" width="23.17" height="16.07" fill="#d4302a"/>
<rect x="594.27" y="77.8" width="25.61" height="16.07" fill="#e27f64"/>
<rect x="619.83" y="77.8" width="23.17" height="16.07" fill="#e27f64"/>
<rect x="571.15" y="93.82" width="23.17" height="16.07" fill="#d4302a"/>
<rect x="594.27" y="93.82" width="25.61" height="16.07" fill="#df6d57"/>
<rect x="619.83" y="93.82" width="23.17" height="16.07" fill="#d63830"/>
<line x1="571.15" y1="61.77" x2="642.95" y2="61.77" stroke="#ffffff" stroke-width="0.9" stroke-opacity="0.25"/>
<line x1="571.15" y1="77.8" x2="642.95" y2="77.8" stroke="#ffffff" stroke-width="0.9" stroke-opacity="0.25"/>
<line x1="594.27" y1="45.75" x2="594.27" y2="109.85" stroke="#ffffff" stroke-width="1.3"/>
<line x1="619.83" y1="45.75" x2="619.83" y2="109.85" stroke="#ffffff" stroke-width="1.3"/>
<rect x="571.15" y="45.75" width="71.8" height="64.1" fill="none" stroke="#000" stroke-width="1.5"/>
<text x="607" y="35" font-size="11.2" fill="#222" text-anchor="middle">N-fixation zone</text>
<line x1="570.6" y1="39" x2="641.6" y2="39" stroke="#222" stroke-width="1.5"/>
<text x="567.9" y="11.8" font-size="11.2" fill="#222" text-anchor="middle">Nodule</text>
<path d="M529.1 22.3 V16.3 H607.7 V22.3" fill="none" stroke="#222" stroke-width="1.4"/>
<text x="414.9" y="55.6" font-size="9.75" fill="#262626" text-anchor="end" font-style="italic">SULTR2;1a</text>
<text x="414.9" y="73.9" font-size="9.75" fill="#262626" text-anchor="end" font-style="italic">SULTR2;1b</text>
<text x="414.9" y="91.6" font-size="9.75" fill="#262626" text-anchor="end" font-style="italic">SULTR3;5a</text>
<text x="414.9" y="107.4" font-size="9.75" fill="#262626" text-anchor="end" font-style="italic">SULTR3;5b</text>
<defs><linearGradient id="cbc" x1="0" y1="1" x2="0" y2="0">
<stop offset="0" stop-color="#2c56ac"/>
<stop offset="0.1" stop-color="#4b6bb0"/>
<stop offset="0.2" stop-color="#768fae"/>
<stop offset="0.3" stop-color="#9fabab"/>
<stop offset="0.4" stop-color="#c8cbad"/>
<stop offset="0.5" stop-color="#f0e8ab"/>
<stop offset="0.6" stop-color="#efcb96"/>
<stop offset="0.7" stop-color="#eaa67e"/>
<stop offset="0.8" stop-color="#e27f64"/>
<stop offset="0.9" stop-color="#dc5a4a"/>
<stop offset="1" stop-color="#d4302a"/>
</linearGradient></defs>
<rect x="653.1" y="46.7" width="9.7" height="63.6" fill="url(#cbc)"/>
<line x1="663.1" y1="46.7" x2="663.1" y2="110.3" stroke="#222" stroke-width="0.9"/>
<line x1="663.1" y1="110.3" x2="664.8" y2="110.3" stroke="#222" stroke-width="0.8"/>
<text x="665.4" y="112.6" font-size="6" fill="#444" text-anchor="start">0.00</text>
<line x1="663.1" y1="97.58" x2="664.8" y2="97.58" stroke="#222" stroke-width="0.8"/>
<text x="665.4" y="99.88" font-size="6" fill="#444" text-anchor="start">0.20</text>
<line x1="663.1" y1="84.86" x2="664.8" y2="84.86" stroke="#222" stroke-width="0.8"/>
<text x="665.4" y="87.16" font-size="6" fill="#444" text-anchor="start">0.40</text>
<line x1="663.1" y1="72.14" x2="664.8" y2="72.14" stroke="#222" stroke-width="0.8"/>
<text x="665.4" y="74.44" font-size="6" fill="#444" text-anchor="start">0.60</text>
<line x1="663.1" y1="59.42" x2="664.8" y2="59.42" stroke="#222" stroke-width="0.8"/>
<text x="665.4" y="61.72" font-size="6" fill="#444" text-anchor="start">0.80</text>
<line x1="663.1" y1="46.7" x2="664.8" y2="46.7" stroke="#222" stroke-width="0.8"/>
<text x="665.4" y="49" font-size="6" fill="#444" text-anchor="start">1.00</text>
<text x="364" y="133.8" font-size="10.8" fill="#111" text-anchor="start" font-weight="bold">d</text>
<defs>
<filter id="fr" x="0" y="0" width="1" height="1" color-interpolation-filters="sRGB">
 <feTurbulence type="fractalNoise" baseFrequency="0.34" numOctaves="2" seed="4" result="n"/>
 <feColorMatrix in="n" type="matrix" values="0 0 0 0 0.78  0 0 0 0 0.17  0 0 0 0 0.38  2.6 0 0 0 -0.6" result="c0"/>
 <feGaussianBlur in="c0" stdDeviation="0.35" result="c"/>
 <feComposite in="c" in2="SourceGraphic" operator="in"/>
</filter>
<filter id="fr2" x="0" y="0" width="1" height="1" color-interpolation-filters="sRGB">
 <feTurbulence type="fractalNoise" baseFrequency="0.34" numOctaves="2" seed="9" result="n"/>
 <feColorMatrix in="n" type="matrix" values="0 0 0 0 0.88  0 0 0 0 0.12  0 0 0 0 0.25  3.0 0 0 0 -0.78" result="c0"/>
 <feGaussianBlur in="c0" stdDeviation="0.35" result="c"/>
 <feComposite in="c" in2="SourceGraphic" operator="in"/>
</filter>
<filter id="fbd" x="0" y="0" width="1" height="1" color-interpolation-filters="sRGB">
 <feTurbulence type="fractalNoise" baseFrequency="0.38" numOctaves="1" seed="11" result="n"/>
 <feColorMatrix in="n" type="matrix" values="0 0 0 0 0.26  0 0 0 0 0.24  0 0 0 0 0.60  3.0 0 0 0 -1.5" result="c"/>
 <feComposite in="c" in2="SourceGraphic" operator="in"/>
</filter>
<filter id="fnet" x="-0.1" y="-0.1" width="1.2" height="1.2" color-interpolation-filters="sRGB">
 <feTurbulence type="turbulence" baseFrequency="0.26" numOctaves="1" seed="21" result="n"/>
 <feColorMatrix in="n" type="matrix" values="0 0 0 0 0.16  0 0 0 0 0.64  0 0 0 0 0.98  -5 0 0 0 1.1" result="c"/>
 <feComposite in="c" in2="SourceGraphic" operator="in"/>
</filter>
<filter id="fnet2" x="-0.1" y="-0.1" width="1.2" height="1.2" color-interpolation-filters="sRGB">
 <feTurbulence type="turbulence" baseFrequency="0.3" numOctaves="1" seed="5" result="n"/>
 <feColorMatrix in="n" type="matrix" values="0 0 0 0 0.10  0 0 0 0 0.38  0 0 0 0 0.82  -6 0 0 0 0.8" result="c"/>
 <feComposite in="c" in2="SourceGraphic" operator="in"/>
</filter>
<filter id="blur1" x="-0.2" y="-0.2" width="1.4" height="1.4"><feGaussianBlur stdDeviation="1.5"/></filter>
<filter id="blur2" x="-0.3" y="-0.3" width="1.6" height="1.6"><feGaussianBlur stdDeviation="5"/></filter>
<clipPath id="cl1"><rect x="386.6" y="133.1" width="137.7" height="135.4"/></clipPath>
<clipPath id="cl2"><rect x="527.8" y="133.6" width="137.7" height="136.3"/></clipPath>
<linearGradient id="rg2" x1="0" y1="0" x2="0" y2="1">
 <stop offset="0" stop-color="#fff" stop-opacity="1"/>
 <stop offset="0.3" stop-color="#fff" stop-opacity="1"/>
 <stop offset="0.5" stop-color="#fff" stop-opacity="0.55"/>
 <stop offset="0.7" stop-color="#fff" stop-opacity="0.2"/>
 <stop offset="1" stop-color="#fff" stop-opacity="0.3"/>
</linearGradient>
</defs>
<g clip-path="url(#cl1)">
<rect x="386.6" y="133.1" width="137.7" height="135.4" fill="#030308"/>
<path d="M387.0 170.0 C389.0 163.5 393.0 156.2 397.0 151.0 C401.0 145.8 405.5 142.3 411.0 139.0 C416.5 135.7 422.7 132.8 430.0 131.0 C437.3 129.2 445.0 127.8 455.0 128.0 C465.0 128.2 480.8 128.8 490.0 132.0 C499.2 135.2 504.8 140.7 510.0 147.0 C515.2 153.3 518.7 162.0 521.0 170.0 C523.3 178.0 524.7 185.8 524.0 195.0 C523.3 204.2 521.0 216.5 517.0 225.0 C513.0 233.5 506.0 240.3 500.0 246.0 C494.0 251.7 487.7 255.7 481.0 259.0 C474.3 262.3 467.7 264.8 460.0 266.0 C452.3 267.2 443.3 267.5 435.0 266.0 C426.7 264.5 416.7 261.3 410.0 257.0 C403.3 252.7 398.8 247.0 395.0 240.0 C391.2 233.0 388.7 223.3 387.0 215.0 C385.3 206.7 385.0 197.5 385.0 190.0 C385.0 182.5 385.0 176.5 387.0 170.0 Z" fill="#0c1c48"/>
<path d="M394.4 173.1 C396.2 167.3 399.7 160.9 403.2 156.3 C406.7 151.7 410.7 148.7 415.6 145.7 C420.4 142.8 425.9 140.3 432.3 138.7 C438.8 137.0 445.6 135.9 454.4 136.0 C463.2 136.2 477.2 136.7 485.3 139.5 C493.3 142.3 498.3 147.2 502.9 152.8 C507.5 158.4 510.5 166.0 512.6 173.1 C514.7 180.1 515.8 187.0 515.2 195.1 C514.7 203.2 512.6 214.1 509.1 221.6 C505.5 229.1 499.4 235.1 494.1 240.1 C488.8 245.1 483.2 248.6 477.3 251.6 C471.4 254.5 465.6 256.7 458.8 257.7 C452.0 258.8 444.1 259.1 436.7 257.7 C429.4 256.4 420.6 253.6 414.7 249.8 C408.8 246.0 404.8 241.0 401.4 234.8 C398.1 228.6 395.9 220.1 394.4 212.8 C392.9 205.4 392.6 197.3 392.6 190.7 C392.6 184.1 392.6 178.8 394.4 173.1 Z" fill="#000" filter="url(#fnet2)" opacity="0.55"/>
<path d="M394.4 173.1 C396.2 167.3 399.7 160.9 403.2 156.3 C406.7 151.7 410.7 148.7 415.6 145.7 C420.4 142.8 425.9 140.3 432.3 138.7 C438.8 137.0 445.6 135.9 454.4 136.0 C463.2 136.2 477.2 136.7 485.3 139.5 C493.3 142.3 498.3 147.2 502.9 152.8 C507.5 158.4 510.5 166.0 512.6 173.1 C514.7 180.1 515.8 187.0 515.2 195.1 C514.7 203.2 512.6 214.1 509.1 221.6 C505.5 229.1 499.4 235.1 494.1 240.1 C488.8 245.1 483.2 248.6 477.3 251.6 C471.4 254.5 465.6 256.7 458.8 257.7 C452.0 258.8 444.1 259.1 436.7 257.7 C429.4 256.4 420.6 253.6 414.7 249.8 C408.8 246.0 404.8 241.0 401.4 234.8 C398.1 228.6 395.9 220.1 394.4 212.8 C392.9 205.4 392.6 197.3 392.6 190.7 C392.6 184.1 392.6 178.8 394.4 173.1 Z" fill="none" stroke="#000" stroke-width="12" filter="url(#fnet2)" opacity="0.8"/>
<path d="M387.0 170.0 C389.0 163.5 393.0 156.2 397.0 151.0 C401.0 145.8 405.5 142.3 411.0 139.0 C416.5 135.7 422.7 132.8 430.0 131.0 C437.3 129.2 445.0 127.8 455.0 128.0 C465.0 128.2 480.8 128.8 490.0 132.0 C499.2 135.2 504.8 140.7 510.0 147.0 C515.2 153.3 518.7 162.0 521.0 170.0 C523.3 178.0 524.7 185.8 524.0 195.0 C523.3 204.2 521.0 216.5 517.0 225.0 C513.0 233.5 506.0 240.3 500.0 246.0 C494.0 251.7 487.7 255.7 481.0 259.0 C474.3 262.3 467.7 264.8 460.0 266.0 C452.3 267.2 443.3 267.5 435.0 266.0 C426.7 264.5 416.7 261.3 410.0 257.0 C403.3 252.7 398.8 247.0 395.0 240.0 C391.2 233.0 388.7 223.3 387.0 215.0 C385.3 206.7 385.0 197.5 385.0 190.0 C385.0 182.5 385.0 176.5 387.0 170.0 Z" fill="none" stroke="#1660b8" stroke-width="4.5" opacity="0.35"/>
<path d="M387.0 170.0 C389.0 163.5 393.0 156.2 397.0 151.0 C401.0 145.8 405.5 142.3 411.0 139.0 C416.5 135.7 422.7 132.8 430.0 131.0 C437.3 129.2 445.0 127.8 455.0 128.0 C465.0 128.2 480.8 128.8 490.0 132.0 C499.2 135.2 504.8 140.7 510.0 147.0 C515.2 153.3 518.7 162.0 521.0 170.0 C523.3 178.0 524.7 185.8 524.0 195.0 C523.3 204.2 521.0 216.5 517.0 225.0 C513.0 233.5 506.0 240.3 500.0 246.0 C494.0 251.7 487.7 255.7 481.0 259.0 C474.3 262.3 467.7 264.8 460.0 266.0 C452.3 267.2 443.3 267.5 435.0 266.0 C426.7 264.5 416.7 261.3 410.0 257.0 C403.3 252.7 398.8 247.0 395.0 240.0 C391.2 233.0 388.7 223.3 387.0 215.0 C385.3 206.7 385.0 197.5 385.0 190.0 C385.0 182.5 385.0 176.5 387.0 170.0 Z" fill="none" stroke="#000" stroke-width="5.5" filter="url(#fnet)"/>
<path d="M400 240 C415 262 440 268 470 266 L500 258 L508 250 C495 262 470 270 440 270 C415 266 398 252 392 238 Z" fill="#000" filter="url(#fnet)" opacity="0.8"/>
<path d="M397.5 203.0 C396.9 198.6 397.0 190.4 397.9 184.5 C398.8 178.6 400.7 172.6 402.7 167.8 C404.7 163.0 406.7 158.9 409.9 155.9 C413.1 152.9 417.0 151.1 421.8 149.9 C426.6 148.7 433.3 148.5 438.5 148.7 C443.7 148.9 448.9 149.9 452.8 151.1 C456.7 152.3 460.0 154.7 462.0 156.0 C464.0 157.3 463.8 159.4 465.0 159.0 C466.2 158.6 465.9 154.8 469.0 153.5 C472.1 152.2 479.4 150.7 483.9 151.1 C488.4 151.5 492.6 153.5 495.8 155.9 C499.0 158.3 501.3 161.4 502.9 165.4 C504.5 169.4 504.9 174.9 505.3 179.7 C505.7 184.5 505.7 189.9 505.5 194.0 C505.3 198.1 504.0 200.7 504.0 204.0 C504.0 207.3 505.7 209.7 505.5 214.0 C505.3 218.3 504.7 225.1 502.6 230.0 C500.5 234.9 497.0 239.9 493.0 243.5 C489.0 247.1 483.4 249.4 478.7 251.3 C474.0 253.2 468.6 253.7 465.0 255.0 C461.4 256.3 460.0 257.8 457.0 259.0 C454.0 260.2 451.7 262.0 447.0 262.5 C442.3 263.0 434.4 263.2 429.0 262.1 C423.6 261.0 418.6 259.1 414.6 256.1 C410.6 253.1 407.5 248.2 405.1 244.2 C402.7 240.2 401.2 236.2 400.3 232.2 C399.4 228.2 399.3 223.5 399.5 220.0 C399.7 216.5 401.8 213.8 401.5 211.0 C401.2 208.2 398.1 207.4 397.5 203.0 Z" fill="#3a1650"/>
<path d="M397.5 203.0 C396.9 198.6 397.0 190.4 397.9 184.5 C398.8 178.6 400.7 172.6 402.7 167.8 C404.7 163.0 406.7 158.9 409.9 155.9 C413.1 152.9 417.0 151.1 421.8 149.9 C426.6 148.7 433.3 148.5 438.5 148.7 C443.7 148.9 448.9 149.9 452.8 151.1 C456.7 152.3 460.0 154.7 462.0 156.0 C464.0 157.3 463.8 159.4 465.0 159.0 C466.2 158.6 465.9 154.8 469.0 153.5 C472.1 152.2 479.4 150.7 483.9 151.1 C488.4 151.5 492.6 153.5 495.8 155.9 C499.0 158.3 501.3 161.4 502.9 165.4 C504.5 169.4 504.9 174.9 505.3 179.7 C505.7 184.5 505.7 189.9 505.5 194.0 C505.3 198.1 504.0 200.7 504.0 204.0 C504.0 207.3 505.7 209.7 505.5 214.0 C505.3 218.3 504.7 225.1 502.6 230.0 C500.5 234.9 497.0 239.9 493.0 243.5 C489.0 247.1 483.4 249.4 478.7 251.3 C474.0 253.2 468.6 253.7 465.0 255.0 C461.4 256.3 460.0 257.8 457.0 259.0 C454.0 260.2 451.7 262.0 447.0 262.5 C442.3 263.0 434.4 263.2 429.0 262.1 C423.6 261.0 418.6 259.1 414.6 256.1 C410.6 253.1 407.5 248.2 405.1 244.2 C402.7 240.2 401.2 236.2 400.3 232.2 C399.4 228.2 399.3 223.5 399.5 220.0 C399.7 216.5 401.8 213.8 401.5 211.0 C401.2 208.2 398.1 207.4 397.5 203.0 Z" fill="#000" filter="url(#fr)"/>
<path d="M397.5 203.0 C396.9 198.6 397.0 190.4 397.9 184.5 C398.8 178.6 400.7 172.6 402.7 167.8 C404.7 163.0 406.7 158.9 409.9 155.9 C413.1 152.9 417.0 151.1 421.8 149.9 C426.6 148.7 433.3 148.5 438.5 148.7 C443.7 148.9 448.9 149.9 452.8 151.1 C456.7 152.3 460.0 154.7 462.0 156.0 C464.0 157.3 463.8 159.4 465.0 159.0 C466.2 158.6 465.9 154.8 469.0 153.5 C472.1 152.2 479.4 150.7 483.9 151.1 C488.4 151.5 492.6 153.5 495.8 155.9 C499.0 158.3 501.3 161.4 502.9 165.4 C504.5 169.4 504.9 174.9 505.3 179.7 C505.7 184.5 505.7 189.9 505.5 194.0 C505.3 198.1 504.0 200.7 504.0 204.0 C504.0 207.3 505.7 209.7 505.5 214.0 C505.3 218.3 504.7 225.1 502.6 230.0 C500.5 234.9 497.0 239.9 493.0 243.5 C489.0 247.1 483.4 249.4 478.7 251.3 C474.0 253.2 468.6 253.7 465.0 255.0 C461.4 256.3 460.0 257.8 457.0 259.0 C454.0 260.2 451.7 262.0 447.0 262.5 C442.3 263.0 434.4 263.2 429.0 262.1 C423.6 261.0 418.6 259.1 414.6 256.1 C410.6 253.1 407.5 248.2 405.1 244.2 C402.7 240.2 401.2 236.2 400.3 232.2 C399.4 228.2 399.3 223.5 399.5 220.0 C399.7 216.5 401.8 213.8 401.5 211.0 C401.2 208.2 398.1 207.4 397.5 203.0 Z" fill="#000" filter="url(#fbd)" opacity="0.6"/>
<ellipse cx="452" cy="207" rx="24" ry="28" fill="#140c38" opacity="0.28" filter="url(#blur2)"/>
<path d="M465 159 C460 180 458 195 455 207 C454 225 456 245 457 259 M401 211 C420 208 440 206 455 207 C475 207 490 205 504 204" fill="none" stroke="#120a30" stroke-width="2.6" opacity="0.55" filter="url(#blur1)"/>
</g>
<text x="404.5" y="144.2" font-size="8.2" fill="#f4f4f8" stroke="#f4f4f8" stroke-width="0.15" font-style="italic">pSULTR2;1a:SULTR2;1a-HA</text>
<rect x="511.0" y="263.9" width="10.9" height="1.8" fill="#f0f0f0"/>
<g clip-path="url(#cl2)">
<rect x="527.8" y="133.6" width="137.7" height="136.3" fill="#030308"/>
<path d="M528.0 192.0 C529.2 185.3 532.2 177.7 535.0 172.0 C537.8 166.3 541.3 162.2 545.0 158.0 C548.7 153.8 552.0 150.0 557.0 147.0 C562.0 144.0 568.7 141.3 575.0 140.0 C581.3 138.7 588.8 138.3 595.0 139.0 C601.2 139.7 605.8 141.7 612.0 144.0 C618.2 146.3 625.7 148.7 632.0 153.0 C638.3 157.3 645.2 163.8 650.0 170.0 C654.8 176.2 658.7 184.2 661.0 190.0 C663.3 195.8 664.2 198.7 664.0 205.0 C663.8 211.3 662.8 221.2 660.0 228.0 C657.2 234.8 652.8 240.7 647.0 246.0 C641.2 251.3 632.8 256.7 625.0 260.0 C617.2 263.3 609.2 265.3 600.0 266.0 C590.8 266.7 578.7 266.3 570.0 264.0 C561.3 261.7 554.0 257.3 548.0 252.0 C542.0 246.7 537.3 238.7 534.0 232.0 C530.7 225.3 529.0 218.7 528.0 212.0 C527.0 205.3 526.8 198.7 528.0 192.0 Z" fill="#0c1c48"/>
<path d="M535.7 192.8 C536.7 186.9 539.3 180.1 541.8 175.1 C544.3 170.1 547.4 166.4 550.7 162.8 C553.9 159.1 556.8 155.7 561.2 153.1 C565.6 150.4 571.5 148.1 577.1 146.9 C582.7 145.7 589.3 145.4 594.8 146.0 C600.2 146.6 604.3 148.4 609.8 150.4 C615.2 152.5 621.8 154.5 627.4 158.4 C633.0 162.2 639.0 167.9 643.3 173.3 C647.5 178.8 650.9 185.8 653.0 191.0 C655.0 196.1 655.8 198.6 655.6 204.2 C655.5 209.8 654.6 218.5 652.1 224.5 C649.6 230.5 645.8 235.7 640.6 240.4 C635.5 245.1 628.1 249.8 621.2 252.7 C614.3 255.7 607.3 257.4 599.2 258.0 C591.1 258.6 580.3 258.3 572.7 256.3 C565.1 254.2 558.6 250.4 553.3 245.7 C548.0 241.0 543.9 233.9 540.9 228.0 C538.0 222.2 536.5 216.3 535.7 210.4 C534.8 204.5 534.6 198.6 535.7 192.8 Z" fill="#000" filter="url(#fnet2)" opacity="0.55"/>
<path d="M535.7 192.8 C536.7 186.9 539.3 180.1 541.8 175.1 C544.3 170.1 547.4 166.4 550.7 162.8 C553.9 159.1 556.8 155.7 561.2 153.1 C565.6 150.4 571.5 148.1 577.1 146.9 C582.7 145.7 589.3 145.4 594.8 146.0 C600.2 146.6 604.3 148.4 609.8 150.4 C615.2 152.5 621.8 154.5 627.4 158.4 C633.0 162.2 639.0 167.9 643.3 173.3 C647.5 178.8 650.9 185.8 653.0 191.0 C655.0 196.1 655.8 198.6 655.6 204.2 C655.5 209.8 654.6 218.5 652.1 224.5 C649.6 230.5 645.8 235.7 640.6 240.4 C635.5 245.1 628.1 249.8 621.2 252.7 C614.3 255.7 607.3 257.4 599.2 258.0 C591.1 258.6 580.3 258.3 572.7 256.3 C565.1 254.2 558.6 250.4 553.3 245.7 C548.0 241.0 543.9 233.9 540.9 228.0 C538.0 222.2 536.5 216.3 535.7 210.4 C534.8 204.5 534.6 198.6 535.7 192.8 Z" fill="none" stroke="#000" stroke-width="12" filter="url(#fnet2)" opacity="0.8"/>
<path d="M528.0 192.0 C529.2 185.3 532.2 177.7 535.0 172.0 C537.8 166.3 541.3 162.2 545.0 158.0 C548.7 153.8 552.0 150.0 557.0 147.0 C562.0 144.0 568.7 141.3 575.0 140.0 C581.3 138.7 588.8 138.3 595.0 139.0 C601.2 139.7 605.8 141.7 612.0 144.0 C618.2 146.3 625.7 148.7 632.0 153.0 C638.3 157.3 645.2 163.8 650.0 170.0 C654.8 176.2 658.7 184.2 661.0 190.0 C663.3 195.8 664.2 198.7 664.0 205.0 C663.8 211.3 662.8 221.2 660.0 228.0 C657.2 234.8 652.8 240.7 647.0 246.0 C641.2 251.3 632.8 256.7 625.0 260.0 C617.2 263.3 609.2 265.3 600.0 266.0 C590.8 266.7 578.7 266.3 570.0 264.0 C561.3 261.7 554.0 257.3 548.0 252.0 C542.0 246.7 537.3 238.7 534.0 232.0 C530.7 225.3 529.0 218.7 528.0 212.0 C527.0 205.3 526.8 198.7 528.0 192.0 Z" fill="none" stroke="#1660b8" stroke-width="4.5" opacity="0.35"/>
<path d="M528.0 192.0 C529.2 185.3 532.2 177.7 535.0 172.0 C537.8 166.3 541.3 162.2 545.0 158.0 C548.7 153.8 552.0 150.0 557.0 147.0 C562.0 144.0 568.7 141.3 575.0 140.0 C581.3 138.7 588.8 138.3 595.0 139.0 C601.2 139.7 605.8 141.7 612.0 144.0 C618.2 146.3 625.7 148.7 632.0 153.0 C638.3 157.3 645.2 163.8 650.0 170.0 C654.8 176.2 658.7 184.2 661.0 190.0 C663.3 195.8 664.2 198.7 664.0 205.0 C663.8 211.3 662.8 221.2 660.0 228.0 C657.2 234.8 652.8 240.7 647.0 246.0 C641.2 251.3 632.8 256.7 625.0 260.0 C617.2 263.3 609.2 265.3 600.0 266.0 C590.8 266.7 578.7 266.3 570.0 264.0 C561.3 261.7 554.0 257.3 548.0 252.0 C542.0 246.7 537.3 238.7 534.0 232.0 C530.7 225.3 529.0 218.7 528.0 212.0 C527.0 205.3 526.8 198.7 528.0 192.0 Z" fill="none" stroke="#000" stroke-width="5.5" filter="url(#fnet)"/>
<path d="M529 205 C532 235 550 258 585 268 L600 270 L560 272 C540 262 528 240 527 215 Z" fill="#000" filter="url(#fnet)" opacity="0.9"/><path d="M535 200 C540 228 558 250 590 258 L585 266 C552 256 534 232 530 205 Z" fill="#000" filter="url(#fnet2)" opacity="0.8"/>
<clipPath id="cb2"><path d="M547.3 183.3 C548.1 179.1 550.7 176.4 553.3 173.8 C555.9 171.2 559.2 170.0 562.8 167.8 C566.4 165.6 570.7 162.0 574.7 160.6 C578.7 159.2 582.7 159.4 586.7 159.4 C590.7 159.4 594.6 160.2 598.6 160.6 C602.6 161.0 606.5 161.0 610.5 161.8 C614.5 162.6 618.5 163.6 622.5 165.4 C626.5 167.2 631.2 169.8 634.4 172.6 C637.6 175.4 639.8 178.9 641.6 182.1 C643.4 185.3 644.3 188.5 645.1 191.7 C645.9 194.9 646.5 197.6 646.3 201.2 C646.1 204.8 645.1 208.7 643.9 213.1 C642.7 217.5 641.6 223.5 639.2 227.5 C636.8 231.5 633.2 234.2 629.6 237.0 C626.0 239.8 622.1 242.2 617.7 244.2 C613.3 246.2 608.6 248.1 603.4 248.9 C598.2 249.7 591.5 249.7 586.7 248.9 C581.9 248.1 577.5 246.6 574.7 244.2 C571.9 241.8 571.2 237.0 570.0 234.6 C568.8 232.2 570.0 230.7 567.6 229.9 C565.2 229.1 558.8 231.1 555.6 229.9 C552.4 228.7 549.9 225.9 548.5 222.7 C547.1 219.5 547.3 214.8 547.3 210.8 C547.3 206.8 548.5 203.4 548.5 198.8 C548.5 194.2 546.5 187.5 547.3 183.3 Z"/></clipPath>
<path d="M547.3 183.3 C548.1 179.1 550.7 176.4 553.3 173.8 C555.9 171.2 559.2 170.0 562.8 167.8 C566.4 165.6 570.7 162.0 574.7 160.6 C578.7 159.2 582.7 159.4 586.7 159.4 C590.7 159.4 594.6 160.2 598.6 160.6 C602.6 161.0 606.5 161.0 610.5 161.8 C614.5 162.6 618.5 163.6 622.5 165.4 C626.5 167.2 631.2 169.8 634.4 172.6 C637.6 175.4 639.8 178.9 641.6 182.1 C643.4 185.3 644.3 188.5 645.1 191.7 C645.9 194.9 646.5 197.6 646.3 201.2 C646.1 204.8 645.1 208.7 643.9 213.1 C642.7 217.5 641.6 223.5 639.2 227.5 C636.8 231.5 633.2 234.2 629.6 237.0 C626.0 239.8 622.1 242.2 617.7 244.2 C613.3 246.2 608.6 248.1 603.4 248.9 C598.2 249.7 591.5 249.7 586.7 248.9 C581.9 248.1 577.5 246.6 574.7 244.2 C571.9 241.8 571.2 237.0 570.0 234.6 C568.8 232.2 570.0 230.7 567.6 229.9 C565.2 229.1 558.8 231.1 555.6 229.9 C552.4 228.7 549.9 225.9 548.5 222.7 C547.1 219.5 547.3 214.8 547.3 210.8 C547.3 206.8 548.5 203.4 548.5 198.8 C548.5 194.2 546.5 187.5 547.3 183.3 Z" fill="#22123c"/>
<path d="M547.3 183.3 C548.1 179.1 550.7 176.4 553.3 173.8 C555.9 171.2 559.2 170.0 562.8 167.8 C566.4 165.6 570.7 162.0 574.7 160.6 C578.7 159.2 582.7 159.4 586.7 159.4 C590.7 159.4 594.6 160.2 598.6 160.6 C602.6 161.0 606.5 161.0 610.5 161.8 C614.5 162.6 618.5 163.6 622.5 165.4 C626.5 167.2 631.2 169.8 634.4 172.6 C637.6 175.4 639.8 178.9 641.6 182.1 C643.4 185.3 644.3 188.5 645.1 191.7 C645.9 194.9 646.5 197.6 646.3 201.2 C646.1 204.8 645.1 208.7 643.9 213.1 C642.7 217.5 641.6 223.5 639.2 227.5 C636.8 231.5 633.2 234.2 629.6 237.0 C626.0 239.8 622.1 242.2 617.7 244.2 C613.3 246.2 608.6 248.1 603.4 248.9 C598.2 249.7 591.5 249.7 586.7 248.9 C581.9 248.1 577.5 246.6 574.7 244.2 C571.9 241.8 571.2 237.0 570.0 234.6 C568.8 232.2 570.0 230.7 567.6 229.9 C565.2 229.1 558.8 231.1 555.6 229.9 C552.4 228.7 549.9 225.9 548.5 222.7 C547.1 219.5 547.3 214.8 547.3 210.8 C547.3 206.8 548.5 203.4 548.5 198.8 C548.5 194.2 546.5 187.5 547.3 183.3 Z" fill="#000" filter="url(#fr2)" opacity="0.5"/>
<mask id="m2"><rect x="527.8" y="133.6" width="137.7" height="136.3" fill="url(#rg2)"/></mask>
<g mask="url(#m2)"><g clip-path="url(#cb2)"><path d="M547.3 183.3 C548.1 179.1 550.7 176.4 553.3 173.8 C555.9 171.2 559.2 170.0 562.8 167.8 C566.4 165.6 570.7 162.0 574.7 160.6 C578.7 159.2 582.7 159.4 586.7 159.4 C590.7 159.4 594.6 160.2 598.6 160.6 C602.6 161.0 606.5 161.0 610.5 161.8 C614.5 162.6 618.5 163.6 622.5 165.4 C626.5 167.2 631.2 169.8 634.4 172.6 C637.6 175.4 639.8 178.9 641.6 182.1 C643.4 185.3 644.3 188.5 645.1 191.7 C645.9 194.9 646.5 197.6 646.3 201.2 C646.1 204.8 645.1 208.7 643.9 213.1 C642.7 217.5 641.6 223.5 639.2 227.5 C636.8 231.5 633.2 234.2 629.6 237.0 C626.0 239.8 622.1 242.2 617.7 244.2 C613.3 246.2 608.6 248.1 603.4 248.9 C598.2 249.7 591.5 249.7 586.7 248.9 C581.9 248.1 577.5 246.6 574.7 244.2 C571.9 241.8 571.2 237.0 570.0 234.6 C568.8 232.2 570.0 230.7 567.6 229.9 C565.2 229.1 558.8 231.1 555.6 229.9 C552.4 228.7 549.9 225.9 548.5 222.7 C547.1 219.5 547.3 214.8 547.3 210.8 C547.3 206.8 548.5 203.4 548.5 198.8 C548.5 194.2 546.5 187.5 547.3 183.3 Z" fill="none" stroke="#000" stroke-width="22" filter="url(#fr2)"/></g></g>
<g fill="#000" filter="url(#fr2)" opacity="0.6"><circle cx="556.0" cy="171.0" r="3.6"/><circle cx="563.0" cy="166.0" r="3.6"/><circle cx="571.0" cy="162.0" r="3.6"/><circle cx="580.0" cy="160.0" r="3.6"/><circle cx="589.0" cy="159.5" r="3.6"/><circle cx="598.0" cy="160.0" r="3.6"/><circle cx="607.0" cy="161.0" r="3.6"/><circle cx="616.0" cy="163.0" r="3.6"/><circle cx="625.0" cy="167.0" r="3.6"/><circle cx="633.0" cy="172.0" r="3.6"/><circle cx="639.0" cy="179.0" r="3.6"/><circle cx="643.0" cy="187.0" r="3.6"/></g>
<path d="M547.3 183.3 C548.1 179.1 550.7 176.4 553.3 173.8 C555.9 171.2 559.2 170.0 562.8 167.8 C566.4 165.6 570.7 162.0 574.7 160.6 C578.7 159.2 582.7 159.4 586.7 159.4 C590.7 159.4 594.6 160.2 598.6 160.6 C602.6 161.0 606.5 161.0 610.5 161.8 C614.5 162.6 618.5 163.6 622.5 165.4 C626.5 167.2 631.2 169.8 634.4 172.6 C637.6 175.4 639.8 178.9 641.6 182.1 C643.4 185.3 644.3 188.5 645.1 191.7 C645.9 194.9 646.5 197.6 646.3 201.2 C646.1 204.8 645.1 208.7 643.9 213.1 C642.7 217.5 641.6 223.5 639.2 227.5 C636.8 231.5 633.2 234.2 629.6 237.0 C626.0 239.8 622.1 242.2 617.7 244.2 C613.3 246.2 608.6 248.1 603.4 248.9 C598.2 249.7 591.5 249.7 586.7 248.9 C581.9 248.1 577.5 246.6 574.7 244.2 C571.9 241.8 571.2 237.0 570.0 234.6 C568.8 232.2 570.0 230.7 567.6 229.9 C565.2 229.1 558.8 231.1 555.6 229.9 C552.4 228.7 549.9 225.9 548.5 222.7 C547.1 219.5 547.3 214.8 547.3 210.8 C547.3 206.8 548.5 203.4 548.5 198.8 C548.5 194.2 546.5 187.5 547.3 183.3 Z" fill="#000" filter="url(#fbd)"/>
<ellipse cx="600" cy="210" rx="24" ry="18" fill="#100a28" opacity="0.45" filter="url(#blur2)"/>
</g>
<text x="547.3" y="144.2" font-size="8.2" fill="#f4f4f8" stroke="#f4f4f8" stroke-width="0.15" font-style="italic">pSULTR3;5a:SULTR3;5a-HA</text>
<rect x="651.8" y="264.8" width="11.1" height="1.8" fill="#f0f0f0"/>
<text x="619.8" y="281.8" font-size="6.5" fill="#333" text-anchor="start">Bars = 100 µm</text>
<text x="353.3" y="300.3" font-size="10.8" fill="#111" text-anchor="start" font-weight="bold">e</text>
<rect x="370.65" y="309.95" width="14.31" height="16.6" fill="#5c79af"/>
<rect x="384.91" y="309.95" width="15.82" height="16.6" fill="#6d88ae"/>
<rect x="400.69" y="309.95" width="14.31" height="16.6" fill="#7a92ae"/>
<rect x="370.65" y="326.5" width="14.31" height="16.6" fill="#7a92ae"/>
<rect x="384.91" y="326.5" width="15.82" height="16.6" fill="#8297ad"/>
<rect x="400.69" y="326.5" width="14.31" height="16.6" fill="#728bae"/>
<rect x="370.65" y="343.05" width="14.31" height="16.6" fill="#728bae"/>
<rect x="384.91" y="343.05" width="15.82" height="16.6" fill="#7e95ad"/>
<rect x="400.69" y="343.05" width="14.31" height="16.6" fill="#4265af"/>
<rect x="370.65" y="359.6" width="14.31" height="16.6" fill="#a3aeab"/>
<rect x="384.91" y="359.6" width="15.82" height="16.6" fill="#a7b1ab"/>
<rect x="400.69" y="359.6" width="14.31" height="16.6" fill="#6581af"/>
<line x1="370.65" y1="326.5" x2="414.95" y2="326.5" stroke="#ffffff" stroke-width="0.9" stroke-opacity="0.25"/>
<line x1="370.65" y1="343.05" x2="414.95" y2="343.05" stroke="#ffffff" stroke-width="0.9" stroke-opacity="0.25"/>
<line x1="370.65" y1="359.6" x2="414.95" y2="359.6" stroke="#ffffff" stroke-width="0.9" stroke-opacity="0.25"/>
<line x1="384.91" y1="309.95" x2="384.91" y2="376.15" stroke="#ffffff" stroke-width="1.3"/>
<line x1="400.69" y1="309.95" x2="400.69" y2="376.15" stroke="#ffffff" stroke-width="1.3"/>
<rect x="370.65" y="309.95" width="44.3" height="66.2" fill="none" stroke="#000" stroke-width="1.5"/>
<text x="385.8" y="302" font-size="9.6" fill="#222" text-anchor="start">CK</text>
<line x1="370.7" y1="305.9" x2="415.1" y2="305.9" stroke="#111" stroke-width="1.4"/>
<rect x="417.79" y="309.95" width="14.31" height="16.6" fill="#2c56ac"/>
<rect x="432.05" y="309.95" width="15.82" height="16.6" fill="#3c60ae"/>
<rect x="447.83" y="309.95" width="14.31" height="16.6" fill="#325aad"/>
<rect x="417.79" y="326.5" width="14.31" height="16.6" fill="#2c56ac"/>
<rect x="432.05" y="326.5" width="15.82" height="16.6" fill="#2c56ac"/>
<rect x="447.83" y="326.5" width="14.31" height="16.6" fill="#355cad"/>
<rect x="417.79" y="343.05" width="14.31" height="16.6" fill="#2c56ac"/>
<rect x="432.05" y="343.05" width="15.82" height="16.6" fill="#3f63ae"/>
<rect x="447.83" y="343.05" width="14.31" height="16.6" fill="#2f58ac"/>
<rect x="417.79" y="359.6" width="14.31" height="16.6" fill="#2c56ac"/>
<rect x="432.05" y="359.6" width="15.82" height="16.6" fill="#4567af"/>
<rect x="447.83" y="359.6" width="14.31" height="16.6" fill="#3f63ae"/>
<line x1="417.79" y1="326.5" x2="462.09" y2="326.5" stroke="#ffffff" stroke-width="0.9" stroke-opacity="0.25"/>
<line x1="417.79" y1="343.05" x2="462.09" y2="343.05" stroke="#ffffff" stroke-width="0.9" stroke-opacity="0.25"/>
<line x1="417.79" y1="359.6" x2="462.09" y2="359.6" stroke="#ffffff" stroke-width="0.9" stroke-opacity="0.25"/>
<line x1="432.05" y1="309.95" x2="432.05" y2="376.15" stroke="#ffffff" stroke-width="1.3"/>
<line x1="447.83" y1="309.95" x2="447.83" y2="376.15" stroke="#ffffff" stroke-width="1.3"/>
<rect x="417.79" y="309.95" width="44.3" height="66.2" fill="none" stroke="#000" stroke-width="1.5"/>
<text x="433.1" y="302" font-size="9.6" fill="#222" text-anchor="start">-Mo</text>
<line x1="417.84" y1="305.9" x2="462.24" y2="305.9" stroke="#111" stroke-width="1.4"/>
<rect x="464.93" y="309.95" width="14.31" height="16.6" fill="#8fa0ac"/>
<rect x="479.19" y="309.95" width="15.82" height="16.6" fill="#4b6bb0"/>
<rect x="494.97" y="309.95" width="14.31" height="16.6" fill="#b4bbac"/>
<rect x="464.93" y="326.5" width="14.31" height="16.6" fill="#8297ad"/>
<rect x="479.19" y="326.5" width="15.82" height="16.6" fill="#6d88ae"/>
<rect x="494.97" y="326.5" width="14.31" height="16.6" fill="#869aad"/>
<rect x="464.93" y="343.05" width="14.31" height="16.6" fill="#b4bbac"/>
<rect x="479.19" y="343.05" width="15.82" height="16.6" fill="#7a92ae"/>
<rect x="494.97" y="343.05" width="14.31" height="16.6" fill="#8fa0ac"/>
<rect x="464.93" y="359.6" width="14.31" height="16.6" fill="#4869b0"/>
<rect x="479.19" y="359.6" width="15.82" height="16.6" fill="#6d88ae"/>
<rect x="494.97" y="359.6" width="14.31" height="16.6" fill="#869aad"/>
<line x1="464.93" y1="326.5" x2="509.23" y2="326.5" stroke="#ffffff" stroke-width="0.9" stroke-opacity="0.25"/>
<line x1="464.93" y1="343.05" x2="509.23" y2="343.05" stroke="#ffffff" stroke-width="0.9" stroke-opacity="0.25"/>
<line x1="464.93" y1="359.6" x2="509.23" y2="359.6" stroke="#ffffff" stroke-width="0.9" stroke-opacity="0.25"/>
<line x1="479.19" y1="309.95" x2="479.19" y2="376.15" stroke="#ffffff" stroke-width="1.3"/>
<line x1="494.97" y1="309.95" x2="494.97" y2="376.15" stroke="#ffffff" stroke-width="1.3"/>
<rect x="464.93" y="309.95" width="44.3" height="66.2" fill="none" stroke="#000" stroke-width="1.5"/>
<text x="478.4" y="302" font-size="9.6" fill="#222" text-anchor="start">-Mg</text>
<line x1="464.98" y1="305.9" x2="509.38" y2="305.9" stroke="#111" stroke-width="1.4"/>
<rect x="512.07" y="309.95" width="14.31" height="16.6" fill="#4f6fb0"/>
<rect x="526.33" y="309.95" width="15.82" height="16.6" fill="#93a3ac"/>
<rect x="542.11" y="309.95" width="14.31" height="16.6" fill="#5876af"/>
<rect x="512.07" y="326.5" width="14.31" height="16.6" fill="#97a5ac"/>
<rect x="526.33" y="326.5" width="15.82" height="16.6" fill="#6581af"/>
<rect x="542.11" y="326.5" width="14.31" height="16.6" fill="#4869b0"/>
<rect x="512.07" y="343.05" width="14.31" height="16.6" fill="#728bae"/>
<rect x="526.33" y="343.05" width="15.82" height="16.6" fill="#728bae"/>
<rect x="542.11" y="343.05" width="14.31" height="16.6" fill="#7e95ad"/>
<rect x="512.07" y="359.6" width="14.31" height="16.6" fill="#4265af"/>
<rect x="526.33" y="359.6" width="15.82" height="16.6" fill="#728bae"/>
<rect x="542.11" y="359.6" width="14.31" height="16.6" fill="#7e95ad"/>
<line x1="512.07" y1="326.5" x2="556.37" y2="326.5" stroke="#ffffff" stroke-width="0.9" stroke-opacity="0.25"/>
<line x1="512.07" y1="343.05" x2="556.37" y2="343.05" stroke="#ffffff" stroke-width="0.9" stroke-opacity="0.25"/>
<line x1="512.07" y1="359.6" x2="556.37" y2="359.6" stroke="#ffffff" stroke-width="0.9" stroke-opacity="0.25"/>
<line x1="526.33" y1="309.95" x2="526.33" y2="376.15" stroke="#ffffff" stroke-width="1.3"/>
<line x1="542.11" y1="309.95" x2="542.11" y2="376.15" stroke="#ffffff" stroke-width="1.3"/>
<rect x="512.07" y="309.95" width="44.3" height="66.2" fill="none" stroke="#000" stroke-width="1.5"/>
<text x="522.9" y="302" font-size="9.6" fill="#222" text-anchor="start">-Mn</text>
<line x1="512.12" y1="305.9" x2="556.52" y2="305.9" stroke="#111" stroke-width="1.4"/>
<rect x="559.21" y="309.95" width="14.31" height="16.6" fill="#abb5ac"/>
<rect x="573.47" y="309.95" width="15.82" height="16.6" fill="#5472b0"/>
<rect x="589.25" y="309.95" width="14.31" height="16.6" fill="#8fa0ac"/>
<rect x="559.21" y="326.5" width="14.31" height="16.6" fill="#93a3ac"/>
<rect x="573.47" y="326.5" width="15.82" height="16.6" fill="#8297ad"/>
<rect x="589.25" y="326.5" width="14.31" height="16.6" fill="#7e95ad"/>
<rect x="559.21" y="343.05" width="14.31" height="16.6" fill="#7e95ad"/>
<rect x="573.47" y="343.05" width="15.82" height="16.6" fill="#8297ad"/>
<rect x="589.25" y="343.05" width="14.31" height="16.6" fill="#5c79af"/>
<rect x="559.21" y="359.6" width="14.31" height="16.6" fill="#5472b0"/>
<rect x="573.47" y="359.6" width="15.82" height="16.6" fill="#8fa0ac"/>
<rect x="589.25" y="359.6" width="14.31" height="16.6" fill="#a7b1ab"/>
<line x1="559.21" y1="326.5" x2="603.51" y2="326.5" stroke="#ffffff" stroke-width="0.9" stroke-opacity="0.25"/>
<line x1="559.21" y1="343.05" x2="603.51" y2="343.05" stroke="#ffffff" stroke-width="0.9" stroke-opacity="0.25"/>
<line x1="559.21" y1="359.6" x2="603.51" y2="359.6" stroke="#ffffff" stroke-width="0.9" stroke-opacity="0.25"/>
<line x1="573.47" y1="309.95" x2="573.47" y2="376.15" stroke="#ffffff" stroke-width="1.3"/>
<line x1="589.25" y1="309.95" x2="589.25" y2="376.15" stroke="#ffffff" stroke-width="1.3"/>
<rect x="559.21" y="309.95" width="44.3" height="66.2" fill="none" stroke="#000" stroke-width="1.5"/>
<text x="576" y="302" font-size="9.6" fill="#222" text-anchor="start">-Zn</text>
<line x1="559.26" y1="305.9" x2="603.66" y2="305.9" stroke="#111" stroke-width="1.4"/>
<rect x="606.35" y="309.95" width="14.31" height="16.6" fill="#ecb185"/>
<rect x="620.61" y="309.95" width="15.82" height="16.6" fill="#d4302a"/>
<rect x="636.39" y="309.95" width="14.31" height="16.6" fill="#eec491"/>
<rect x="606.35" y="326.5" width="14.31" height="16.6" fill="#eaa67e"/>
<rect x="620.61" y="326.5" width="15.82" height="16.6" fill="#de6954"/>
<rect x="636.39" y="326.5" width="14.31" height="16.6" fill="#d4302a"/>
<rect x="606.35" y="343.05" width="14.31" height="16.6" fill="#f0e8ab"/>
<rect x="620.61" y="343.05" width="15.82" height="16.6" fill="#efd79e"/>
<rect x="636.39" y="343.05" width="14.31" height="16.6" fill="#d4302a"/>
<rect x="606.35" y="359.6" width="14.31" height="16.6" fill="#e8e2ab"/>
<rect x="620.61" y="359.6" width="15.82" height="16.6" fill="#e4dfac"/>
<rect x="636.39" y="359.6" width="14.31" height="16.6" fill="#d4302a"/>
<line x1="606.35" y1="326.5" x2="650.65" y2="326.5" stroke="#ffffff" stroke-width="0.9" stroke-opacity="0.25"/>
<line x1="606.35" y1="343.05" x2="650.65" y2="343.05" stroke="#ffffff" stroke-width="0.9" stroke-opacity="0.25"/>
<line x1="606.35" y1="359.6" x2="650.65" y2="359.6" stroke="#ffffff" stroke-width="0.9" stroke-opacity="0.25"/>
<line x1="620.61" y1="309.95" x2="620.61" y2="376.15" stroke="#ffffff" stroke-width="1.3"/>
<line x1="636.39" y1="309.95" x2="636.39" y2="376.15" stroke="#ffffff" stroke-width="1.3"/>
<rect x="606.35" y="309.95" width="44.3" height="66.2" fill="none" stroke="#000" stroke-width="1.5"/>
<text x="624.5" y="302" font-size="9.6" fill="#222" text-anchor="start">-S</text>
<line x1="606.4" y1="305.9" x2="650.8" y2="305.9" stroke="#111" stroke-width="1.4"/>
<text x="366.9" y="320.5" font-size="9.75" fill="#262626" text-anchor="end" font-style="italic">SULTR2;1a</text>
<text x="366.9" y="338.6" font-size="9.75" fill="#262626" text-anchor="end" font-style="italic">SULTR2;1b</text>
<text x="366.9" y="356" font-size="9.75" fill="#262626" text-anchor="end" font-style="italic">SULTR3;5a</text>
<text x="366.9" y="372" font-size="9.75" fill="#262626" text-anchor="end" font-style="italic">SULTR3;5b</text>
<defs><linearGradient id="cbe" x1="0" y1="1" x2="0" y2="0">
<stop offset="0" stop-color="#2c56ac"/>
<stop offset="0.1" stop-color="#4b6bb0"/>
<stop offset="0.2" stop-color="#768fae"/>
<stop offset="0.3" stop-color="#9fabab"/>
<stop offset="0.4" stop-color="#c8cbad"/>
<stop offset="0.5" stop-color="#f0e8ab"/>
<stop offset="0.6" stop-color="#efcb96"/>
<stop offset="0.7" stop-color="#eaa67e"/>
<stop offset="0.8" stop-color="#e27f64"/>
<stop offset="0.9" stop-color="#dc5a4a"/>
<stop offset="1" stop-color="#d4302a"/>
</linearGradient></defs>
<rect x="659.4" y="310.9" width="10" height="64" fill="url(#cbe)"/>
<line x1="669.7" y1="310.9" x2="669.7" y2="374.9" stroke="#222" stroke-width="0.9"/>
<line x1="669.7" y1="374.9" x2="671.4" y2="374.9" stroke="#222" stroke-width="0.8"/>
<text x="672" y="377.2" font-size="6" fill="#444" text-anchor="start">0.00</text>
<line x1="669.7" y1="362.1" x2="671.4" y2="362.1" stroke="#222" stroke-width="0.8"/>
<text x="672" y="364.4" font-size="6" fill="#444" text-anchor="start">0.20</text>
<line x1="669.7" y1="349.3" x2="671.4" y2="349.3" stroke="#222" stroke-width="0.8"/>
<text x="672" y="351.6" font-size="6" fill="#444" text-anchor="start">0.40</text>
<line x1="669.7" y1="336.5" x2="671.4" y2="336.5" stroke="#222" stroke-width="0.8"/>
<text x="672" y="338.8" font-size="6" fill="#444" text-anchor="start">0.60</text>
<line x1="669.7" y1="323.7" x2="671.4" y2="323.7" stroke="#222" stroke-width="0.8"/>
<text x="672" y="326" font-size="6" fill="#444" text-anchor="start">0.80</text>
<line x1="669.7" y1="310.9" x2="671.4" y2="310.9" stroke="#222" stroke-width="0.8"/>
<text x="672" y="313.2" font-size="6" fill="#444" text-anchor="start">1.00</text>
<text x="353.6" y="402" font-size="10.8" fill="#111" text-anchor="start" font-weight="bold">f</text>
<rect x="368.35" y="409.25" width="14.51" height="16.68" fill="#e1785f"/>
<rect x="382.81" y="409.25" width="16.03" height="16.68" fill="#d4302a"/>
<rect x="398.79" y="409.25" width="14.51" height="16.68" fill="#de6552"/>
<rect x="368.35" y="425.88" width="14.51" height="16.68" fill="#d4302a"/>
<rect x="382.81" y="425.88" width="16.03" height="16.68" fill="#e48769"/>
<rect x="398.79" y="425.88" width="14.51" height="16.68" fill="#e1785f"/>
<rect x="368.35" y="442.5" width="14.51" height="16.68" fill="#ece5ab"/>
<rect x="382.81" y="442.5" width="16.03" height="16.68" fill="#d4302a"/>
<rect x="398.79" y="442.5" width="14.51" height="16.68" fill="#e1785f"/>
<rect x="368.35" y="459.12" width="14.51" height="16.68" fill="#dc5a4a"/>
<rect x="382.81" y="459.12" width="16.03" height="16.68" fill="#d63830"/>
<rect x="398.79" y="459.12" width="14.51" height="16.68" fill="#dc5a4a"/>
<line x1="368.35" y1="425.88" x2="413.25" y2="425.88" stroke="#ffffff" stroke-width="0.9" stroke-opacity="0.25"/>
<line x1="368.35" y1="442.5" x2="413.25" y2="442.5" stroke="#ffffff" stroke-width="0.9" stroke-opacity="0.25"/>
<line x1="368.35" y1="459.12" x2="413.25" y2="459.12" stroke="#ffffff" stroke-width="0.9" stroke-opacity="0.25"/>
<line x1="382.81" y1="409.25" x2="382.81" y2="475.75" stroke="#ffffff" stroke-width="1.3"/>
<line x1="398.79" y1="409.25" x2="398.79" y2="475.75" stroke="#ffffff" stroke-width="1.3"/>
<rect x="368.35" y="409.25" width="44.9" height="66.5" fill="none" stroke="#000" stroke-width="1.5"/>
<text x="383.5" y="400.9" font-size="9.5" fill="#222" text-anchor="start">CK</text>
<line x1="368.3" y1="404.5" x2="413.4" y2="404.5" stroke="#111" stroke-width="1.4"/>
<rect x="415.65" y="409.25" width="14.51" height="16.68" fill="#eec491"/>
<rect x="430.11" y="409.25" width="16.03" height="16.68" fill="#d4d4ac"/>
<rect x="446.09" y="409.25" width="14.51" height="16.68" fill="#e1785f"/>
<rect x="415.65" y="425.88" width="14.51" height="16.68" fill="#bcc1ac"/>
<rect x="430.11" y="425.88" width="16.03" height="16.68" fill="#869aad"/>
<rect x="446.09" y="425.88" width="14.51" height="16.68" fill="#df6d57"/>
<rect x="415.65" y="442.5" width="14.51" height="16.68" fill="#385eae"/>
<rect x="430.11" y="442.5" width="16.03" height="16.68" fill="#3c60ae"/>
<rect x="446.09" y="442.5" width="14.51" height="16.68" fill="#4b6bb0"/>
<rect x="415.65" y="459.12" width="14.51" height="16.68" fill="#a3aeab"/>
<rect x="430.11" y="459.12" width="16.03" height="16.68" fill="#2c56ac"/>
<rect x="446.09" y="459.12" width="14.51" height="16.68" fill="#8fa0ac"/>
<line x1="415.65" y1="425.88" x2="460.55" y2="425.88" stroke="#ffffff" stroke-width="0.9" stroke-opacity="0.25"/>
<line x1="415.65" y1="442.5" x2="460.55" y2="442.5" stroke="#ffffff" stroke-width="0.9" stroke-opacity="0.25"/>
<line x1="415.65" y1="459.12" x2="460.55" y2="459.12" stroke="#ffffff" stroke-width="0.9" stroke-opacity="0.25"/>
<line x1="430.11" y1="409.25" x2="430.11" y2="475.75" stroke="#ffffff" stroke-width="1.3"/>
<line x1="446.09" y1="409.25" x2="446.09" y2="475.75" stroke="#ffffff" stroke-width="1.3"/>
<rect x="415.65" y="409.25" width="44.9" height="66.5" fill="none" stroke="#000" stroke-width="1.5"/>
<text x="417.9" y="400.9" font-size="9.5" fill="#222" text-anchor="start">Wounding</text>
<line x1="415.6" y1="404.5" x2="460.7" y2="404.5" stroke="#111" stroke-width="1.4"/>
<rect x="462.95" y="409.25" width="14.51" height="16.68" fill="#325aad"/>
<rect x="477.41" y="409.25" width="16.03" height="16.68" fill="#e4dfac"/>
<rect x="493.39" y="409.25" width="14.51" height="16.68" fill="#c0c5ad"/>
<rect x="462.95" y="425.88" width="14.51" height="16.68" fill="#325aad"/>
<rect x="477.41" y="425.88" width="16.03" height="16.68" fill="#c0c5ad"/>
<rect x="493.39" y="425.88" width="14.51" height="16.68" fill="#a7b1ab"/>
<rect x="462.95" y="442.5" width="14.51" height="16.68" fill="#4567af"/>
<rect x="477.41" y="442.5" width="16.03" height="16.68" fill="#6984af"/>
<rect x="493.39" y="442.5" width="14.51" height="16.68" fill="#6d88ae"/>
<rect x="462.95" y="459.12" width="14.51" height="16.68" fill="#c0c5ad"/>
<rect x="477.41" y="459.12" width="16.03" height="16.68" fill="#9ba8ab"/>
<rect x="493.39" y="459.12" width="14.51" height="16.68" fill="#a7b1ab"/>
<line x1="462.95" y1="425.88" x2="507.85" y2="425.88" stroke="#ffffff" stroke-width="0.9" stroke-opacity="0.25"/>
<line x1="462.95" y1="442.5" x2="507.85" y2="442.5" stroke="#ffffff" stroke-width="0.9" stroke-opacity="0.25"/>
<line x1="462.95" y1="459.12" x2="507.85" y2="459.12" stroke="#ffffff" stroke-width="0.9" stroke-opacity="0.25"/>
<line x1="477.41" y1="409.25" x2="477.41" y2="475.75" stroke="#ffffff" stroke-width="1.3"/>
<line x1="493.39" y1="409.25" x2="493.39" y2="475.75" stroke="#ffffff" stroke-width="1.3"/>
<rect x="462.95" y="409.25" width="44.9" height="66.5" fill="none" stroke="#000" stroke-width="1.5"/>
<text x="478.2" y="400.9" font-size="9.5" fill="#222" text-anchor="start">H-N</text>
<line x1="462.9" y1="404.5" x2="508" y2="404.5" stroke="#111" stroke-width="1.4"/>
<rect x="510.25" y="409.25" width="14.51" height="16.68" fill="#eec08f"/>
<rect x="524.71" y="409.25" width="16.03" height="16.68" fill="#e69271"/>
<rect x="540.69" y="409.25" width="14.51" height="16.68" fill="#b8beac"/>
<rect x="510.25" y="425.88" width="14.51" height="16.68" fill="#de6954"/>
<rect x="524.71" y="425.88" width="16.03" height="16.68" fill="#de6954"/>
<rect x="540.69" y="425.88" width="14.51" height="16.68" fill="#f0e2a7"/>
<rect x="510.25" y="442.5" width="14.51" height="16.68" fill="#ecb88a"/>
<rect x="524.71" y="442.5" width="16.03" height="16.68" fill="#a3aeab"/>
<rect x="540.69" y="442.5" width="14.51" height="16.68" fill="#f0d9a0"/>
<rect x="510.25" y="459.12" width="14.51" height="16.68" fill="#cccead"/>
<rect x="524.71" y="459.12" width="16.03" height="16.68" fill="#f0e2a7"/>
<rect x="540.69" y="459.12" width="14.51" height="16.68" fill="#9fabab"/>
<line x1="510.25" y1="425.88" x2="555.15" y2="425.88" stroke="#ffffff" stroke-width="0.9" stroke-opacity="0.25"/>
<line x1="510.25" y1="442.5" x2="555.15" y2="442.5" stroke="#ffffff" stroke-width="0.9" stroke-opacity="0.25"/>
<line x1="510.25" y1="459.12" x2="555.15" y2="459.12" stroke="#ffffff" stroke-width="0.9" stroke-opacity="0.25"/>
<line x1="524.71" y1="409.25" x2="524.71" y2="475.75" stroke="#ffffff" stroke-width="1.3"/>
<line x1="540.69" y1="409.25" x2="540.69" y2="475.75" stroke="#ffffff" stroke-width="1.3"/>
<rect x="510.25" y="409.25" width="44.9" height="66.5" fill="none" stroke="#000" stroke-width="1.5"/>
<text x="515.4" y="400.9" font-size="9.5" fill="#222" text-anchor="start">Drought</text>
<line x1="510.2" y1="404.5" x2="555.3" y2="404.5" stroke="#111" stroke-width="1.4"/>
<rect x="557.55" y="409.25" width="14.51" height="16.68" fill="#a7b1ab"/>
<rect x="572.01" y="409.25" width="16.03" height="16.68" fill="#355cad"/>
<rect x="587.99" y="409.25" width="14.51" height="16.68" fill="#8fa0ac"/>
<rect x="557.55" y="425.88" width="14.51" height="16.68" fill="#6d88ae"/>
<rect x="572.01" y="425.88" width="16.03" height="16.68" fill="#325aad"/>
<rect x="587.99" y="425.88" width="14.51" height="16.68" fill="#4869b0"/>
<rect x="557.55" y="442.5" width="14.51" height="16.68" fill="#abb5ac"/>
<rect x="572.01" y="442.5" width="16.03" height="16.68" fill="#728bae"/>
<rect x="587.99" y="442.5" width="14.51" height="16.68" fill="#728bae"/>
<rect x="557.55" y="459.12" width="14.51" height="16.68" fill="#abb5ac"/>
<rect x="572.01" y="459.12" width="16.03" height="16.68" fill="#abb5ac"/>
<rect x="587.99" y="459.12" width="14.51" height="16.68" fill="#7a92ae"/>
<line x1="557.55" y1="425.88" x2="602.45" y2="425.88" stroke="#ffffff" stroke-width="0.9" stroke-opacity="0.25"/>
<line x1="557.55" y1="442.5" x2="602.45" y2="442.5" stroke="#ffffff" stroke-width="0.9" stroke-opacity="0.25"/>
<line x1="557.55" y1="459.12" x2="602.45" y2="459.12" stroke="#ffffff" stroke-width="0.9" stroke-opacity="0.25"/>
<line x1="572.01" y1="409.25" x2="572.01" y2="475.75" stroke="#ffffff" stroke-width="1.3"/>
<line x1="587.99" y1="409.25" x2="587.99" y2="475.75" stroke="#ffffff" stroke-width="1.3"/>
<rect x="557.55" y="409.25" width="44.9" height="66.5" fill="none" stroke="#000" stroke-width="1.5"/>
<text x="561.6" y="400.9" font-size="9.5" fill="#222" text-anchor="start">High Mg</text>
<line x1="557.5" y1="404.5" x2="602.6" y2="404.5" stroke="#111" stroke-width="1.4"/>
<rect x="604.85" y="409.25" width="14.51" height="16.68" fill="#d8d7ac"/>
<rect x="619.31" y="409.25" width="16.03" height="16.68" fill="#2f58ac"/>
<rect x="635.29" y="409.25" width="14.51" height="16.68" fill="#bcc1ac"/>
<rect x="604.85" y="425.88" width="14.51" height="16.68" fill="#6d88ae"/>
<rect x="619.31" y="425.88" width="16.03" height="16.68" fill="#325aad"/>
<rect x="635.29" y="425.88" width="14.51" height="16.68" fill="#2c56ac"/>
<rect x="604.85" y="442.5" width="14.51" height="16.68" fill="#2c56ac"/>
<rect x="619.31" y="442.5" width="16.03" height="16.68" fill="#5c79af"/>
<rect x="635.29" y="442.5" width="14.51" height="16.68" fill="#6984af"/>
<rect x="604.85" y="459.12" width="14.51" height="16.68" fill="#e89e79"/>
<rect x="619.31" y="459.12" width="16.03" height="16.68" fill="#e4dfac"/>
<rect x="635.29" y="459.12" width="14.51" height="16.68" fill="#c8cbad"/>
<line x1="604.85" y1="425.88" x2="649.75" y2="425.88" stroke="#ffffff" stroke-width="0.9" stroke-opacity="0.25"/>
<line x1="604.85" y1="442.5" x2="649.75" y2="442.5" stroke="#ffffff" stroke-width="0.9" stroke-opacity="0.25"/>
<line x1="604.85" y1="459.12" x2="649.75" y2="459.12" stroke="#ffffff" stroke-width="0.9" stroke-opacity="0.25"/>
<line x1="619.31" y1="409.25" x2="619.31" y2="475.75" stroke="#ffffff" stroke-width="1.3"/>
<line x1="635.29" y1="409.25" x2="635.29" y2="475.75" stroke="#ffffff" stroke-width="1.3"/>
<rect x="604.85" y="409.25" width="44.9" height="66.5" fill="none" stroke="#000" stroke-width="1.5"/>
<text x="605.1" y="400.9" font-size="9.5" fill="#222" text-anchor="start">Darkness</text>
<line x1="604.8" y1="404.5" x2="649.9" y2="404.5" stroke="#111" stroke-width="1.4"/>
<text x="365.3" y="420.4" font-size="9.75" fill="#262626" text-anchor="end" font-style="italic">SULTR2;1a</text>
<text x="365.3" y="437.6" font-size="9.75" fill="#262626" text-anchor="end" font-style="italic">SULTR2;1b</text>
<text x="365.3" y="454.1" font-size="9.75" fill="#262626" text-anchor="end" font-style="italic">SULTR3;5a</text>
<text x="365.3" y="471.1" font-size="9.75" fill="#262626" text-anchor="end" font-style="italic">SULTR3;5b</text>
<defs><linearGradient id="cbf" x1="0" y1="1" x2="0" y2="0">
<stop offset="0" stop-color="#2c56ac"/>
<stop offset="0.1" stop-color="#4b6bb0"/>
<stop offset="0.2" stop-color="#768fae"/>
<stop offset="0.3" stop-color="#9fabab"/>
<stop offset="0.4" stop-color="#c8cbad"/>
<stop offset="0.5" stop-color="#f0e8ab"/>
<stop offset="0.6" stop-color="#efcb96"/>
<stop offset="0.7" stop-color="#eaa67e"/>
<stop offset="0.8" stop-color="#e27f64"/>
<stop offset="0.9" stop-color="#dc5a4a"/>
<stop offset="1" stop-color="#d4302a"/>
</linearGradient></defs>
<rect x="658" y="410.7" width="9.4" height="63.4" fill="url(#cbf)"/>
<line x1="667.7" y1="410.7" x2="667.7" y2="474.1" stroke="#222" stroke-width="0.9"/>
<line x1="667.7" y1="474.1" x2="669.4" y2="474.1" stroke="#222" stroke-width="0.8"/>
<text x="670" y="476.4" font-size="6" fill="#444" text-anchor="start">0.00</text>
<line x1="667.7" y1="461.42" x2="669.4" y2="461.42" stroke="#222" stroke-width="0.8"/>
<text x="670" y="463.72" font-size="6" fill="#444" text-anchor="start">0.20</text>
<line x1="667.7" y1="448.74" x2="669.4" y2="448.74" stroke="#222" stroke-width="0.8"/>
<text x="670" y="451.04" font-size="6" fill="#444" text-anchor="start">0.40</text>
<line x1="667.7" y1="436.06" x2="669.4" y2="436.06" stroke="#222" stroke-width="0.8"/>
<text x="670" y="438.36" font-size="6" fill="#444" text-anchor="start">0.60</text>
<line x1="667.7" y1="423.38" x2="669.4" y2="423.38" stroke="#222" stroke-width="0.8"/>
<text x="670" y="425.68" font-size="6" fill="#444" text-anchor="start">0.80</text>
<line x1="667.7" y1="410.7" x2="669.4" y2="410.7" stroke="#222" stroke-width="0.8"/>
<text x="670" y="413" font-size="6" fill="#444" text-anchor="start">1.00</text>
<text x="355" y="506.3" font-size="10.8" fill="#111" text-anchor="start" font-weight="bold">g</text>
<rect x="368.65" y="514.05" width="12.29" height="14.98" fill="#2c56ac"/>
<rect x="380.89" y="514.05" width="13.58" height="14.98" fill="#2c56ac"/>
<rect x="394.41" y="514.05" width="12.29" height="14.98" fill="#2f58ac"/>
<rect x="368.65" y="528.97" width="12.29" height="14.98" fill="#2c56ac"/>
<rect x="380.89" y="528.97" width="13.58" height="14.98" fill="#2c56ac"/>
<rect x="394.41" y="528.97" width="12.29" height="14.98" fill="#2f58ac"/>
<rect x="368.65" y="543.9" width="12.29" height="14.98" fill="#2f58ac"/>
<rect x="380.89" y="543.9" width="13.58" height="14.98" fill="#2f58ac"/>
<rect x="394.41" y="543.9" width="12.29" height="14.98" fill="#2f58ac"/>
<rect x="368.65" y="558.83" width="12.29" height="14.98" fill="#355cad"/>
<rect x="380.89" y="558.83" width="13.58" height="14.98" fill="#355cad"/>
<rect x="394.41" y="558.83" width="12.29" height="14.98" fill="#355cad"/>
<line x1="368.65" y1="528.97" x2="406.65" y2="528.97" stroke="#ffffff" stroke-width="0.9" stroke-opacity="0.25"/>
<line x1="368.65" y1="543.9" x2="406.65" y2="543.9" stroke="#ffffff" stroke-width="0.9" stroke-opacity="0.25"/>
<line x1="368.65" y1="558.83" x2="406.65" y2="558.83" stroke="#ffffff" stroke-width="0.9" stroke-opacity="0.25"/>
<line x1="380.89" y1="514.05" x2="380.89" y2="573.75" stroke="#ffffff" stroke-width="1.3"/>
<line x1="394.41" y1="514.05" x2="394.41" y2="573.75" stroke="#ffffff" stroke-width="1.3"/>
<rect x="368.65" y="514.05" width="38" height="59.7" fill="none" stroke="#000" stroke-width="1.5"/>
<text x="384.9" y="505" font-size="9.6" fill="#222" text-anchor="start">7</text>
<line x1="368.6" y1="508.6" x2="406.8" y2="508.6" stroke="#111" stroke-width="1.4"/>
<rect x="409.37" y="514.05" width="12.29" height="14.98" fill="#97a5ac"/>
<rect x="421.61" y="514.05" width="13.58" height="14.98" fill="#4b6bb0"/>
<rect x="435.13" y="514.05" width="12.29" height="14.98" fill="#5876af"/>
<rect x="409.37" y="528.97" width="12.29" height="14.98" fill="#4265af"/>
<rect x="421.61" y="528.97" width="13.58" height="14.98" fill="#325aad"/>
<rect x="435.13" y="528.97" width="12.29" height="14.98" fill="#355cad"/>
<rect x="409.37" y="543.9" width="12.29" height="14.98" fill="#325aad"/>
<rect x="421.61" y="543.9" width="13.58" height="14.98" fill="#325aad"/>
<rect x="435.13" y="543.9" width="12.29" height="14.98" fill="#2f58ac"/>
<rect x="409.37" y="558.83" width="12.29" height="14.98" fill="#3c60ae"/>
<rect x="421.61" y="558.83" width="13.58" height="14.98" fill="#3c60ae"/>
<rect x="435.13" y="558.83" width="12.29" height="14.98" fill="#325aad"/>
<line x1="409.37" y1="528.97" x2="447.37" y2="528.97" stroke="#ffffff" stroke-width="0.9" stroke-opacity="0.25"/>
<line x1="409.37" y1="543.9" x2="447.37" y2="543.9" stroke="#ffffff" stroke-width="0.9" stroke-opacity="0.25"/>
<line x1="409.37" y1="558.83" x2="447.37" y2="558.83" stroke="#ffffff" stroke-width="0.9" stroke-opacity="0.25"/>
<line x1="421.61" y1="514.05" x2="421.61" y2="573.75" stroke="#ffffff" stroke-width="1.3"/>
<line x1="435.13" y1="514.05" x2="435.13" y2="573.75" stroke="#ffffff" stroke-width="1.3"/>
<rect x="409.37" y="514.05" width="38" height="59.7" fill="none" stroke="#000" stroke-width="1.5"/>
<text x="422.3" y="505" font-size="9.6" fill="#222" text-anchor="start">14</text>
<line x1="409.32" y1="508.6" x2="447.52" y2="508.6" stroke="#111" stroke-width="1.4"/>
<rect x="450.09" y="514.05" width="12.29" height="14.98" fill="#efcb96"/>
<rect x="462.33" y="514.05" width="13.58" height="14.98" fill="#ebad83"/>
<rect x="475.85" y="514.05" width="12.29" height="14.98" fill="#e48b6c"/>
<rect x="450.09" y="528.97" width="12.29" height="14.98" fill="#869aad"/>
<rect x="462.33" y="528.97" width="13.58" height="14.98" fill="#6d88ae"/>
<rect x="475.85" y="528.97" width="12.29" height="14.98" fill="#869aad"/>
<rect x="450.09" y="543.9" width="12.29" height="14.98" fill="#869aad"/>
<rect x="462.33" y="543.9" width="13.58" height="14.98" fill="#6d88ae"/>
<rect x="475.85" y="543.9" width="12.29" height="14.98" fill="#869aad"/>
<rect x="450.09" y="558.83" width="12.29" height="14.98" fill="#e4dfac"/>
<rect x="462.33" y="558.83" width="13.58" height="14.98" fill="#cccead"/>
<rect x="475.85" y="558.83" width="12.29" height="14.98" fill="#c8cbad"/>
<line x1="450.09" y1="528.97" x2="488.09" y2="528.97" stroke="#ffffff" stroke-width="0.9" stroke-opacity="0.25"/>
<line x1="450.09" y1="543.9" x2="488.09" y2="543.9" stroke="#ffffff" stroke-width="0.9" stroke-opacity="0.25"/>
<line x1="450.09" y1="558.83" x2="488.09" y2="558.83" stroke="#ffffff" stroke-width="0.9" stroke-opacity="0.25"/>
<line x1="462.33" y1="514.05" x2="462.33" y2="573.75" stroke="#ffffff" stroke-width="1.3"/>
<line x1="475.85" y1="514.05" x2="475.85" y2="573.75" stroke="#ffffff" stroke-width="1.3"/>
<rect x="450.09" y="514.05" width="38" height="59.7" fill="none" stroke="#000" stroke-width="1.5"/>
<text x="463.4" y="505" font-size="9.6" fill="#222" text-anchor="start">17</text>
<line x1="450.04" y1="508.6" x2="488.24" y2="508.6" stroke="#111" stroke-width="1.4"/>
<rect x="490.81" y="514.05" width="12.29" height="14.98" fill="#de6954"/>
<rect x="503.05" y="514.05" width="13.58" height="14.98" fill="#d4302a"/>
<rect x="516.57" y="514.05" width="12.29" height="14.98" fill="#e1785f"/>
<rect x="490.81" y="528.97" width="12.29" height="14.98" fill="#e48769"/>
<rect x="503.05" y="528.97" width="13.58" height="14.98" fill="#d4302a"/>
<rect x="516.57" y="528.97" width="12.29" height="14.98" fill="#efd49c"/>
<rect x="490.81" y="543.9" width="12.29" height="14.98" fill="#f0e8ab"/>
<rect x="503.05" y="543.9" width="13.58" height="14.98" fill="#f0dca3"/>
<rect x="516.57" y="543.9" width="12.29" height="14.98" fill="#d4302a"/>
<rect x="490.81" y="558.83" width="12.29" height="14.98" fill="#dd5e4d"/>
<rect x="503.05" y="558.83" width="13.58" height="14.98" fill="#d4302a"/>
<rect x="516.57" y="558.83" width="12.29" height="14.98" fill="#e48769"/>
<line x1="490.81" y1="528.97" x2="528.81" y2="528.97" stroke="#ffffff" stroke-width="0.9" stroke-opacity="0.25"/>
<line x1="490.81" y1="543.9" x2="528.81" y2="543.9" stroke="#ffffff" stroke-width="0.9" stroke-opacity="0.25"/>
<line x1="490.81" y1="558.83" x2="528.81" y2="558.83" stroke="#ffffff" stroke-width="0.9" stroke-opacity="0.25"/>
<line x1="503.05" y1="514.05" x2="503.05" y2="573.75" stroke="#ffffff" stroke-width="1.3"/>
<line x1="516.57" y1="514.05" x2="516.57" y2="573.75" stroke="#ffffff" stroke-width="1.3"/>
<rect x="490.81" y="514.05" width="38" height="59.7" fill="none" stroke="#000" stroke-width="1.5"/>
<text x="503.9" y="505" font-size="9.6" fill="#222" text-anchor="start">21</text>
<line x1="490.76" y1="508.6" x2="528.96" y2="508.6" stroke="#111" stroke-width="1.4"/>
<rect x="531.53" y="514.05" width="12.29" height="14.98" fill="#ebad83"/>
<rect x="543.77" y="514.05" width="13.58" height="14.98" fill="#e48769"/>
<rect x="557.29" y="514.05" width="12.29" height="14.98" fill="#eaa67e"/>
<rect x="531.53" y="528.97" width="12.29" height="14.98" fill="#e0705a"/>
<rect x="543.77" y="528.97" width="13.58" height="14.98" fill="#93a3ac"/>
<rect x="557.29" y="528.97" width="12.29" height="14.98" fill="#bcc1ac"/>
<rect x="531.53" y="543.9" width="12.29" height="14.98" fill="#e8e2ab"/>
<rect x="543.77" y="543.9" width="13.58" height="14.98" fill="#bcc1ac"/>
<rect x="557.29" y="543.9" width="12.29" height="14.98" fill="#b8beac"/>
<rect x="531.53" y="558.83" width="12.29" height="14.98" fill="#e58f6e"/>
<rect x="543.77" y="558.83" width="13.58" height="14.98" fill="#eec491"/>
<rect x="557.29" y="558.83" width="12.29" height="14.98" fill="#eec491"/>
<line x1="531.53" y1="528.97" x2="569.53" y2="528.97" stroke="#ffffff" stroke-width="0.9" stroke-opacity="0.25"/>
<line x1="531.53" y1="543.9" x2="569.53" y2="543.9" stroke="#ffffff" stroke-width="0.9" stroke-opacity="0.25"/>
<line x1="531.53" y1="558.83" x2="569.53" y2="558.83" stroke="#ffffff" stroke-width="0.9" stroke-opacity="0.25"/>
<line x1="543.77" y1="514.05" x2="543.77" y2="573.75" stroke="#ffffff" stroke-width="1.3"/>
<line x1="557.29" y1="514.05" x2="557.29" y2="573.75" stroke="#ffffff" stroke-width="1.3"/>
<rect x="531.53" y="514.05" width="38" height="59.7" fill="none" stroke="#000" stroke-width="1.5"/>
<text x="544.6" y="505" font-size="9.6" fill="#222" text-anchor="start">30</text>
<line x1="531.48" y1="508.6" x2="569.68" y2="508.6" stroke="#111" stroke-width="1.4"/>
<rect x="572.25" y="514.05" width="12.29" height="14.98" fill="#9fabab"/>
<rect x="584.49" y="514.05" width="13.58" height="14.98" fill="#8fa0ac"/>
<rect x="598.01" y="514.05" width="12.29" height="14.98" fill="#6984af"/>
<rect x="572.25" y="528.97" width="12.29" height="14.98" fill="#6d88ae"/>
<rect x="584.49" y="528.97" width="13.58" height="14.98" fill="#3c60ae"/>
<rect x="598.01" y="528.97" width="12.29" height="14.98" fill="#6581af"/>
<rect x="572.25" y="543.9" width="12.29" height="14.98" fill="#3c60ae"/>
<rect x="584.49" y="543.9" width="13.58" height="14.98" fill="#3c60ae"/>
<rect x="598.01" y="543.9" width="12.29" height="14.98" fill="#2c56ac"/>
<rect x="572.25" y="558.83" width="12.29" height="14.98" fill="#7a92ae"/>
<rect x="584.49" y="558.83" width="13.58" height="14.98" fill="#9fabab"/>
<rect x="598.01" y="558.83" width="12.29" height="14.98" fill="#d8d7ac"/>
<line x1="572.25" y1="528.97" x2="610.25" y2="528.97" stroke="#ffffff" stroke-width="0.9" stroke-opacity="0.25"/>
<line x1="572.25" y1="543.9" x2="610.25" y2="543.9" stroke="#ffffff" stroke-width="0.9" stroke-opacity="0.25"/>
<line x1="572.25" y1="558.83" x2="610.25" y2="558.83" stroke="#ffffff" stroke-width="0.9" stroke-opacity="0.25"/>
<line x1="584.49" y1="514.05" x2="584.49" y2="573.75" stroke="#ffffff" stroke-width="1.3"/>
<line x1="598.01" y1="514.05" x2="598.01" y2="573.75" stroke="#ffffff" stroke-width="1.3"/>
<rect x="572.25" y="514.05" width="38" height="59.7" fill="none" stroke="#000" stroke-width="1.5"/>
<text x="584.5" y="505" font-size="9.6" fill="#222" text-anchor="start">40</text>
<line x1="572.2" y1="508.6" x2="610.4" y2="508.6" stroke="#111" stroke-width="1.4"/>
<rect x="612.97" y="514.05" width="12.29" height="14.98" fill="#6d88ae"/>
<rect x="625.21" y="514.05" width="13.58" height="14.98" fill="#5876af"/>
<rect x="638.73" y="514.05" width="12.29" height="14.98" fill="#7a92ae"/>
<rect x="612.97" y="528.97" width="12.29" height="14.98" fill="#4265af"/>
<rect x="625.21" y="528.97" width="13.58" height="14.98" fill="#4f6fb0"/>
<rect x="638.73" y="528.97" width="12.29" height="14.98" fill="#4869b0"/>
<rect x="612.97" y="543.9" width="12.29" height="14.98" fill="#3c60ae"/>
<rect x="625.21" y="543.9" width="13.58" height="14.98" fill="#2f58ac"/>
<rect x="638.73" y="543.9" width="12.29" height="14.98" fill="#4869b0"/>
<rect x="612.97" y="558.83" width="12.29" height="14.98" fill="#4567af"/>
<rect x="625.21" y="558.83" width="13.58" height="14.98" fill="#9fabab"/>
<rect x="638.73" y="558.83" width="12.29" height="14.98" fill="#6984af"/>
<line x1="612.97" y1="528.97" x2="650.97" y2="528.97" stroke="#ffffff" stroke-width="0.9" stroke-opacity="0.25"/>
<line x1="612.97" y1="543.9" x2="650.97" y2="543.9" stroke="#ffffff" stroke-width="0.9" stroke-opacity="0.25"/>
<line x1="612.97" y1="558.83" x2="650.97" y2="558.83" stroke="#ffffff" stroke-width="0.9" stroke-opacity="0.25"/>
<line x1="625.21" y1="514.05" x2="625.21" y2="573.75" stroke="#ffffff" stroke-width="1.3"/>
<line x1="638.73" y1="514.05" x2="638.73" y2="573.75" stroke="#ffffff" stroke-width="1.3"/>
<rect x="612.97" y="514.05" width="38" height="59.7" fill="none" stroke="#000" stroke-width="1.5"/>
<text x="625.5" y="505" font-size="9.6" fill="#222" text-anchor="start">50</text>
<line x1="612.92" y1="508.6" x2="651.12" y2="508.6" stroke="#111" stroke-width="1.4"/>
<text x="640.5" y="505" font-size="9.6" fill="#222" text-anchor="start">(dpi)</text>
<text x="364.4" y="524.2" font-size="9.75" fill="#262626" text-anchor="end" font-style="italic">SULTR2;1a</text>
<text x="364.4" y="540" font-size="9.75" fill="#262626" text-anchor="end" font-style="italic">SULTR2;1b</text>
<text x="364.4" y="555.8" font-size="9.75" fill="#262626" text-anchor="end" font-style="italic">SULTR3;5a</text>
<text x="364.4" y="571.8" font-size="9.75" fill="#262626" text-anchor="end" font-style="italic">SULTR3;5b</text>
<defs><linearGradient id="cbg" x1="0" y1="1" x2="0" y2="0">
<stop offset="0" stop-color="#2c56ac"/>
<stop offset="0.1" stop-color="#4b6bb0"/>
<stop offset="0.2" stop-color="#768fae"/>
<stop offset="0.3" stop-color="#9fabab"/>
<stop offset="0.4" stop-color="#c8cbad"/>
<stop offset="0.5" stop-color="#f0e8ab"/>
<stop offset="0.6" stop-color="#efcb96"/>
<stop offset="0.7" stop-color="#eaa67e"/>
<stop offset="0.8" stop-color="#e27f64"/>
<stop offset="0.9" stop-color="#dc5a4a"/>
<stop offset="1" stop-color="#d4302a"/>
</linearGradient></defs>
<rect x="658.3" y="512.2" width="9.7" height="63.5" fill="url(#cbg)"/>
<line x1="668.3" y1="512.2" x2="668.3" y2="575.7" stroke="#222" stroke-width="0.9"/>
<line x1="668.3" y1="575.7" x2="670" y2="575.7" stroke="#222" stroke-width="0.8"/>
<text x="670.6" y="578" font-size="6" fill="#444" text-anchor="start">0.00</text>
<line x1="668.3" y1="563" x2="670" y2="563" stroke="#222" stroke-width="0.8"/>
<text x="670.6" y="565.3" font-size="6" fill="#444" text-anchor="start">0.20</text>
<line x1="668.3" y1="550.3" x2="670" y2="550.3" stroke="#222" stroke-width="0.8"/>
<text x="670.6" y="552.6" font-size="6" fill="#444" text-anchor="start">0.40</text>
<line x1="668.3" y1="537.6" x2="670" y2="537.6" stroke="#222" stroke-width="0.8"/>
<text x="670.6" y="539.9" font-size="6" fill="#444" text-anchor="start">0.60</text>
<line x1="668.3" y1="524.9" x2="670" y2="524.9" stroke="#222" stroke-width="0.8"/>
<text x="670.6" y="527.2" font-size="6" fill="#444" text-anchor="start">0.80</text>
<line x1="668.3" y1="512.2" x2="670" y2="512.2" stroke="#222" stroke-width="0.8"/>
<text x="670.6" y="514.5" font-size="6" fill="#444" text-anchor="start">1.00</text>
</svg>
</body></html>
